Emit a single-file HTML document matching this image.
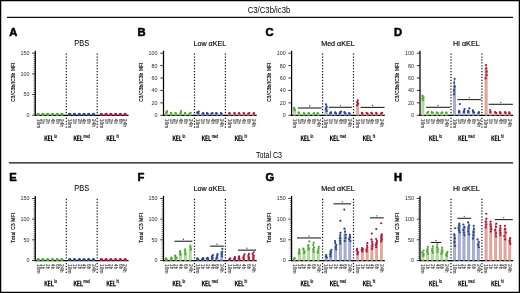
<!DOCTYPE html>
<html><head><meta charset="utf-8"><style>
html,body{margin:0;padding:0;background:#fff;}
svg{display:block;font-family:"Liberation Sans", sans-serif;}
.wrap{will-change:transform;width:520px;height:293px;}
</style></head><body><div class="wrap">
<svg width="520" height="293" viewBox="0 0 520 293">
<rect x="0" y="0" width="520" height="293" fill="#fff"/>
<rect x="0.6" y="0.6" width="518.8" height="291.8" fill="none" stroke="#000" stroke-width="1.3"/>
<line x1="7" y1="17.4" x2="513" y2="17.4" stroke="#111" stroke-width="1.2"/>
<line x1="8.9" y1="162.9" x2="513" y2="162.9" stroke="#111" stroke-width="1.3"/>
<text x="269.00" y="13.00" font-size="8.8" text-anchor="middle" font-weight="normal" fill="#000" textLength="42.6" lengthAdjust="spacingAndGlyphs">C3/C3b/ic3b</text>
<text x="269.00" y="158.30" font-size="8.2" text-anchor="middle" font-weight="normal" fill="#000" textLength="25.9" lengthAdjust="spacingAndGlyphs">Total C3</text>
<text x="9.30" y="36.20" font-size="11.2" text-anchor="start" font-weight="bold" fill="#000" stroke="#000" stroke-width="0.55">A</text>
<text x="81.70" y="45.80" font-size="8.4" text-anchor="middle" font-weight="normal" fill="#000" stroke="#000" stroke-width="0.05" textLength="14.8" lengthAdjust="spacingAndGlyphs">PBS</text>
<text x="0" y="0" font-size="20" text-anchor="middle" letter-spacing="1.2" fill="#111" stroke="#111" stroke-width="0.77" transform="translate(15.30,82.10) rotate(-90) scale(0.2290,0.2847)">C3/C3b/iC3b MFI</text>
<line x1="35.30" y1="50.70" x2="35.30" y2="115.85" stroke="#000" stroke-width="1.25"/>
<line x1="34.70" y1="115.25" x2="128.50" y2="115.25" stroke="#000" stroke-width="1.25"/>
<line x1="32.10" y1="115.25" x2="35.30" y2="115.25" stroke="#000" stroke-width="0.8"/>
<text x="29.40" y="117.15" font-size="5.2" text-anchor="end" font-weight="normal" fill="#2a2a2a" textLength="3.0" lengthAdjust="spacingAndGlyphs">0</text>
<line x1="32.10" y1="94.57" x2="35.30" y2="94.57" stroke="#000" stroke-width="0.8"/>
<text x="29.40" y="96.47" font-size="5.2" text-anchor="end" font-weight="normal" fill="#2a2a2a" textLength="6.0" lengthAdjust="spacingAndGlyphs">50</text>
<line x1="32.10" y1="73.88" x2="35.30" y2="73.88" stroke="#000" stroke-width="0.8"/>
<text x="29.40" y="75.78" font-size="5.2" text-anchor="end" font-weight="normal" fill="#2a2a2a" textLength="9.0" lengthAdjust="spacingAndGlyphs">100</text>
<line x1="32.10" y1="53.20" x2="35.30" y2="53.20" stroke="#000" stroke-width="0.8"/>
<text x="29.40" y="55.10" font-size="5.2" text-anchor="end" font-weight="normal" fill="#2a2a2a" textLength="9.0" lengthAdjust="spacingAndGlyphs">150</text>
<line x1="33.50" y1="113.18" x2="35.30" y2="113.18" stroke="#111" stroke-width="0.6"/>
<line x1="33.50" y1="111.11" x2="35.30" y2="111.11" stroke="#111" stroke-width="0.6"/>
<line x1="33.50" y1="109.05" x2="35.30" y2="109.05" stroke="#111" stroke-width="0.6"/>
<line x1="33.50" y1="106.98" x2="35.30" y2="106.98" stroke="#111" stroke-width="0.6"/>
<line x1="33.50" y1="104.91" x2="35.30" y2="104.91" stroke="#111" stroke-width="0.6"/>
<line x1="33.50" y1="102.84" x2="35.30" y2="102.84" stroke="#111" stroke-width="0.6"/>
<line x1="33.50" y1="100.77" x2="35.30" y2="100.77" stroke="#111" stroke-width="0.6"/>
<line x1="33.50" y1="98.70" x2="35.30" y2="98.70" stroke="#111" stroke-width="0.6"/>
<line x1="33.50" y1="96.64" x2="35.30" y2="96.64" stroke="#111" stroke-width="0.6"/>
<line x1="33.50" y1="92.50" x2="35.30" y2="92.50" stroke="#111" stroke-width="0.6"/>
<line x1="33.50" y1="90.43" x2="35.30" y2="90.43" stroke="#111" stroke-width="0.6"/>
<line x1="33.50" y1="88.36" x2="35.30" y2="88.36" stroke="#111" stroke-width="0.6"/>
<line x1="33.50" y1="86.29" x2="35.30" y2="86.29" stroke="#111" stroke-width="0.6"/>
<line x1="33.50" y1="84.22" x2="35.30" y2="84.22" stroke="#111" stroke-width="0.6"/>
<line x1="33.50" y1="82.16" x2="35.30" y2="82.16" stroke="#111" stroke-width="0.6"/>
<line x1="33.50" y1="80.09" x2="35.30" y2="80.09" stroke="#111" stroke-width="0.6"/>
<line x1="33.50" y1="78.02" x2="35.30" y2="78.02" stroke="#111" stroke-width="0.6"/>
<line x1="33.50" y1="75.95" x2="35.30" y2="75.95" stroke="#111" stroke-width="0.6"/>
<line x1="33.50" y1="71.81" x2="35.30" y2="71.81" stroke="#111" stroke-width="0.6"/>
<line x1="33.50" y1="69.75" x2="35.30" y2="69.75" stroke="#111" stroke-width="0.6"/>
<line x1="33.50" y1="67.68" x2="35.30" y2="67.68" stroke="#111" stroke-width="0.6"/>
<line x1="33.50" y1="65.61" x2="35.30" y2="65.61" stroke="#111" stroke-width="0.6"/>
<line x1="33.50" y1="63.54" x2="35.30" y2="63.54" stroke="#111" stroke-width="0.6"/>
<line x1="33.50" y1="61.47" x2="35.30" y2="61.47" stroke="#111" stroke-width="0.6"/>
<line x1="33.50" y1="59.41" x2="35.30" y2="59.41" stroke="#111" stroke-width="0.6"/>
<line x1="33.50" y1="57.34" x2="35.30" y2="57.34" stroke="#111" stroke-width="0.6"/>
<line x1="33.50" y1="55.27" x2="35.30" y2="55.27" stroke="#111" stroke-width="0.6"/>
<line x1="66.30" y1="53.50" x2="66.30" y2="129.20" stroke="#111" stroke-width="1.2" stroke-dasharray="1.25 1.67"/>
<line x1="97.20" y1="53.50" x2="97.20" y2="129.20" stroke="#111" stroke-width="1.2" stroke-dasharray="1.25 1.67"/>
<rect x="37.10" y="113.60" width="2.2" height="1.65" fill="#bcdca8" stroke="#8cc474" stroke-width="0.5"/>
<ellipse cx="38.20" cy="114.15" rx="1.55" ry="1.5" fill="#4fa834"/>
<rect x="41.84" y="113.60" width="2.2" height="1.65" fill="#bcdca8" stroke="#8cc474" stroke-width="0.5"/>
<ellipse cx="42.94" cy="114.15" rx="1.55" ry="1.5" fill="#4fa834"/>
<rect x="46.58" y="113.60" width="2.2" height="1.65" fill="#bcdca8" stroke="#8cc474" stroke-width="0.5"/>
<ellipse cx="47.68" cy="114.15" rx="1.55" ry="1.5" fill="#4fa834"/>
<rect x="51.32" y="113.60" width="2.2" height="1.65" fill="#bcdca8" stroke="#8cc474" stroke-width="0.5"/>
<ellipse cx="52.42" cy="114.15" rx="1.55" ry="1.5" fill="#4fa834"/>
<rect x="56.06" y="113.60" width="2.2" height="1.65" fill="#bcdca8" stroke="#8cc474" stroke-width="0.5"/>
<ellipse cx="57.16" cy="114.15" rx="1.55" ry="1.5" fill="#4fa834"/>
<rect x="60.80" y="113.60" width="2.2" height="1.65" fill="#bcdca8" stroke="#8cc474" stroke-width="0.5"/>
<ellipse cx="61.90" cy="114.15" rx="1.55" ry="1.5" fill="#4fa834"/>
<rect x="68.69" y="113.60" width="2.2" height="1.65" fill="#a9b2d6" stroke="#7c88bc" stroke-width="0.5"/>
<ellipse cx="69.79" cy="114.15" rx="1.55" ry="1.5" fill="#27468a"/>
<rect x="73.43" y="113.60" width="2.2" height="1.65" fill="#a9b2d6" stroke="#7c88bc" stroke-width="0.5"/>
<ellipse cx="74.53" cy="114.15" rx="1.55" ry="1.5" fill="#27468a"/>
<rect x="78.17" y="113.60" width="2.2" height="1.65" fill="#a9b2d6" stroke="#7c88bc" stroke-width="0.5"/>
<ellipse cx="79.27" cy="114.15" rx="1.55" ry="1.5" fill="#27468a"/>
<rect x="82.91" y="113.60" width="2.2" height="1.65" fill="#a9b2d6" stroke="#7c88bc" stroke-width="0.5"/>
<ellipse cx="84.01" cy="114.15" rx="1.55" ry="1.5" fill="#27468a"/>
<rect x="87.65" y="113.60" width="2.2" height="1.65" fill="#a9b2d6" stroke="#7c88bc" stroke-width="0.5"/>
<ellipse cx="88.75" cy="114.15" rx="1.55" ry="1.5" fill="#27468a"/>
<rect x="92.39" y="113.60" width="2.2" height="1.65" fill="#a9b2d6" stroke="#7c88bc" stroke-width="0.5"/>
<ellipse cx="93.49" cy="114.15" rx="1.55" ry="1.5" fill="#27468a"/>
<rect x="100.28" y="113.60" width="2.2" height="1.65" fill="#e4a89e" stroke="#d28a7e" stroke-width="0.5"/>
<ellipse cx="101.38" cy="114.15" rx="1.55" ry="1.5" fill="#b3133b"/>
<rect x="105.02" y="113.60" width="2.2" height="1.65" fill="#e4a89e" stroke="#d28a7e" stroke-width="0.5"/>
<ellipse cx="106.12" cy="114.15" rx="1.55" ry="1.5" fill="#b3133b"/>
<rect x="109.76" y="113.60" width="2.2" height="1.65" fill="#e4a89e" stroke="#d28a7e" stroke-width="0.5"/>
<ellipse cx="110.86" cy="114.15" rx="1.55" ry="1.5" fill="#b3133b"/>
<rect x="114.50" y="113.60" width="2.2" height="1.65" fill="#e4a89e" stroke="#d28a7e" stroke-width="0.5"/>
<ellipse cx="115.60" cy="114.15" rx="1.55" ry="1.5" fill="#b3133b"/>
<rect x="119.24" y="113.60" width="2.2" height="1.65" fill="#e4a89e" stroke="#d28a7e" stroke-width="0.5"/>
<ellipse cx="120.34" cy="114.15" rx="1.55" ry="1.5" fill="#b3133b"/>
<rect x="123.98" y="113.60" width="2.2" height="1.65" fill="#e4a89e" stroke="#d28a7e" stroke-width="0.5"/>
<ellipse cx="125.08" cy="114.15" rx="1.55" ry="1.5" fill="#b3133b"/>
<path d="M45.00,135.50V141.00M47.30,135.50L45.25,138.69M46.00,137.70L47.40,141.00M48.45,135.50V141.00M48.45,135.92H50.55M48.45,138.25H50.35M48.45,140.58H50.60M51.55,135.50V141.00M51.55,140.58H53.85" fill="none" stroke="#111" stroke-width="1.0"/>
<text x="54.25" y="137.60" font-size="4.6" text-anchor="start" font-weight="normal" fill="#111" stroke="#111" stroke-width="0.2" textLength="2.8" lengthAdjust="spacingAndGlyphs">lo</text>
<text x="0" y="0" font-size="4.9" fill="#505050" stroke="#505050" stroke-width="0.16" textLength="9.6" lengthAdjust="spacingAndGlyphs" transform="translate(36.60,118.85) rotate(90)">10m</text>
<text x="0" y="0" font-size="4.9" fill="#505050" stroke="#505050" stroke-width="0.16" textLength="5.2" lengthAdjust="spacingAndGlyphs" transform="translate(41.34,118.85) rotate(90)">1h</text>
<text x="0" y="0" font-size="4.9" fill="#505050" stroke="#505050" stroke-width="0.16" textLength="5.2" lengthAdjust="spacingAndGlyphs" transform="translate(46.08,118.85) rotate(90)">2h</text>
<text x="0" y="0" font-size="4.9" fill="#505050" stroke="#505050" stroke-width="0.16" textLength="5.2" lengthAdjust="spacingAndGlyphs" transform="translate(50.82,118.85) rotate(90)">4h</text>
<text x="0" y="0" font-size="4.9" fill="#505050" stroke="#505050" stroke-width="0.16" textLength="5.2" lengthAdjust="spacingAndGlyphs" transform="translate(55.56,118.85) rotate(90)">6h</text>
<text x="0" y="0" font-size="4.9" fill="#505050" stroke="#505050" stroke-width="0.16" textLength="8.4" lengthAdjust="spacingAndGlyphs" transform="translate(60.30,118.85) rotate(90)">24h</text>
<path d="M74.20,135.50V141.00M76.50,135.50L74.45,138.69M75.20,137.70L76.60,141.00M77.65,135.50V141.00M77.65,135.92H79.75M77.65,138.25H79.55M77.65,140.58H79.80M80.75,135.50V141.00M80.75,140.58H83.05" fill="none" stroke="#111" stroke-width="1.0"/>
<text x="83.45" y="137.60" font-size="4.6" text-anchor="start" font-weight="normal" fill="#111" stroke="#111" stroke-width="0.2" textLength="6.3" lengthAdjust="spacingAndGlyphs">med</text>
<text x="0" y="0" font-size="4.9" fill="#505050" stroke="#505050" stroke-width="0.16" textLength="9.6" lengthAdjust="spacingAndGlyphs" transform="translate(68.19,118.85) rotate(90)">10m</text>
<text x="0" y="0" font-size="4.9" fill="#505050" stroke="#505050" stroke-width="0.16" textLength="5.2" lengthAdjust="spacingAndGlyphs" transform="translate(72.93,118.85) rotate(90)">1h</text>
<text x="0" y="0" font-size="4.9" fill="#505050" stroke="#505050" stroke-width="0.16" textLength="5.2" lengthAdjust="spacingAndGlyphs" transform="translate(77.67,118.85) rotate(90)">2h</text>
<text x="0" y="0" font-size="4.9" fill="#505050" stroke="#505050" stroke-width="0.16" textLength="5.2" lengthAdjust="spacingAndGlyphs" transform="translate(82.41,118.85) rotate(90)">4h</text>
<text x="0" y="0" font-size="4.9" fill="#505050" stroke="#505050" stroke-width="0.16" textLength="5.2" lengthAdjust="spacingAndGlyphs" transform="translate(87.15,118.85) rotate(90)">6h</text>
<text x="0" y="0" font-size="4.9" fill="#505050" stroke="#505050" stroke-width="0.16" textLength="8.4" lengthAdjust="spacingAndGlyphs" transform="translate(91.89,118.85) rotate(90)">24h</text>
<path d="M107.15,135.50V141.00M109.45,135.50L107.40,138.69M108.15,137.70L109.55,141.00M110.60,135.50V141.00M110.60,135.92H112.70M110.60,138.25H112.50M110.60,140.58H112.75M113.70,135.50V141.00M113.70,140.58H116.00" fill="none" stroke="#111" stroke-width="1.0"/>
<text x="116.40" y="137.60" font-size="4.6" text-anchor="start" font-weight="normal" fill="#111" stroke="#111" stroke-width="0.2" textLength="2.6" lengthAdjust="spacingAndGlyphs">hi</text>
<text x="0" y="0" font-size="4.9" fill="#505050" stroke="#505050" stroke-width="0.16" textLength="9.6" lengthAdjust="spacingAndGlyphs" transform="translate(99.78,118.85) rotate(90)">10m</text>
<text x="0" y="0" font-size="4.9" fill="#505050" stroke="#505050" stroke-width="0.16" textLength="5.2" lengthAdjust="spacingAndGlyphs" transform="translate(104.52,118.85) rotate(90)">1h</text>
<text x="0" y="0" font-size="4.9" fill="#505050" stroke="#505050" stroke-width="0.16" textLength="5.2" lengthAdjust="spacingAndGlyphs" transform="translate(109.26,118.85) rotate(90)">2h</text>
<text x="0" y="0" font-size="4.9" fill="#505050" stroke="#505050" stroke-width="0.16" textLength="5.2" lengthAdjust="spacingAndGlyphs" transform="translate(114.00,118.85) rotate(90)">4h</text>
<text x="0" y="0" font-size="4.9" fill="#505050" stroke="#505050" stroke-width="0.16" textLength="5.2" lengthAdjust="spacingAndGlyphs" transform="translate(118.74,118.85) rotate(90)">6h</text>
<text x="0" y="0" font-size="4.9" fill="#505050" stroke="#505050" stroke-width="0.16" textLength="8.4" lengthAdjust="spacingAndGlyphs" transform="translate(123.48,118.85) rotate(90)">24h</text>
<text x="137.50" y="36.20" font-size="11.2" text-anchor="start" font-weight="bold" fill="#000" stroke="#000" stroke-width="0.55">B</text>
<text x="209.90" y="45.80" font-size="8.0" text-anchor="middle" font-weight="normal" fill="#000" stroke="#000" stroke-width="0.16" textLength="32.7" lengthAdjust="spacingAndGlyphs">Low αKEL</text>
<text x="0" y="0" font-size="20" text-anchor="middle" letter-spacing="1.2" fill="#111" stroke="#111" stroke-width="0.77" transform="translate(142.50,82.10) rotate(-90) scale(0.2290,0.2847)">C3/C3b/iC3b MFI</text>
<line x1="163.50" y1="50.70" x2="163.50" y2="115.85" stroke="#000" stroke-width="1.25"/>
<line x1="162.90" y1="115.25" x2="256.70" y2="115.25" stroke="#000" stroke-width="1.25"/>
<line x1="160.30" y1="115.25" x2="163.50" y2="115.25" stroke="#000" stroke-width="0.8"/>
<text x="157.60" y="117.15" font-size="5.2" text-anchor="end" font-weight="normal" fill="#2a2a2a" textLength="3.0" lengthAdjust="spacingAndGlyphs">0</text>
<line x1="160.30" y1="102.84" x2="163.50" y2="102.84" stroke="#000" stroke-width="0.8"/>
<text x="157.60" y="104.74" font-size="5.2" text-anchor="end" font-weight="normal" fill="#2a2a2a" textLength="6.0" lengthAdjust="spacingAndGlyphs">20</text>
<line x1="160.30" y1="90.43" x2="163.50" y2="90.43" stroke="#000" stroke-width="0.8"/>
<text x="157.60" y="92.33" font-size="5.2" text-anchor="end" font-weight="normal" fill="#2a2a2a" textLength="6.0" lengthAdjust="spacingAndGlyphs">40</text>
<line x1="160.30" y1="78.02" x2="163.50" y2="78.02" stroke="#000" stroke-width="0.8"/>
<text x="157.60" y="79.92" font-size="5.2" text-anchor="end" font-weight="normal" fill="#2a2a2a" textLength="6.0" lengthAdjust="spacingAndGlyphs">60</text>
<line x1="160.30" y1="65.61" x2="163.50" y2="65.61" stroke="#000" stroke-width="0.8"/>
<text x="157.60" y="67.51" font-size="5.2" text-anchor="end" font-weight="normal" fill="#2a2a2a" textLength="6.0" lengthAdjust="spacingAndGlyphs">80</text>
<line x1="160.30" y1="53.20" x2="163.50" y2="53.20" stroke="#000" stroke-width="0.8"/>
<text x="157.60" y="55.10" font-size="5.2" text-anchor="end" font-weight="normal" fill="#2a2a2a" textLength="9.0" lengthAdjust="spacingAndGlyphs">100</text>
<line x1="194.50" y1="53.50" x2="194.50" y2="129.20" stroke="#111" stroke-width="1.2" stroke-dasharray="1.25 1.67"/>
<line x1="225.40" y1="53.50" x2="225.40" y2="129.20" stroke="#111" stroke-width="1.2" stroke-dasharray="1.25 1.67"/>
<rect x="165.30" y="111.84" width="2.2" height="3.41" fill="#bcdca8" stroke="#8cc474" stroke-width="0.5"/>
<circle cx="166.32" cy="113.39" r="1.1" fill="#4fa834"/>
<circle cx="166.50" cy="112.30" r="1.1" fill="#4fa834"/>
<circle cx="167.08" cy="111.22" r="1.1" fill="#4fa834"/>
<rect x="170.04" y="113.08" width="2.2" height="2.17" fill="#bcdca8" stroke="#8cc474" stroke-width="0.5"/>
<circle cx="171.09" cy="113.70" r="1.1" fill="#4fa834"/>
<circle cx="171.15" cy="112.77" r="1.1" fill="#4fa834"/>
<rect x="174.78" y="113.08" width="2.2" height="2.17" fill="#bcdca8" stroke="#8cc474" stroke-width="0.5"/>
<circle cx="176.02" cy="113.70" r="1.1" fill="#4fa834"/>
<circle cx="175.38" cy="112.77" r="1.1" fill="#4fa834"/>
<rect x="179.52" y="113.08" width="2.2" height="2.17" fill="#bcdca8" stroke="#8cc474" stroke-width="0.5"/>
<circle cx="180.64" cy="113.70" r="1.1" fill="#4fa834"/>
<circle cx="180.83" cy="112.77" r="1.1" fill="#4fa834"/>
<circle cx="181.09" cy="111.22" r="1.1" fill="#4fa834"/>
<rect x="184.26" y="113.08" width="2.2" height="2.17" fill="#bcdca8" stroke="#8cc474" stroke-width="0.5"/>
<circle cx="184.71" cy="113.70" r="1.1" fill="#4fa834"/>
<circle cx="185.05" cy="112.77" r="1.1" fill="#4fa834"/>
<rect x="189.00" y="113.08" width="2.2" height="2.17" fill="#bcdca8" stroke="#8cc474" stroke-width="0.5"/>
<circle cx="189.45" cy="113.70" r="1.1" fill="#4fa834"/>
<circle cx="190.60" cy="112.77" r="1.1" fill="#4fa834"/>
<rect x="196.89" y="112.46" width="2.2" height="2.79" fill="#a9b2d6" stroke="#7c88bc" stroke-width="0.5"/>
<circle cx="198.30" cy="113.39" r="1.1" fill="#27468a"/>
<circle cx="197.26" cy="112.46" r="1.1" fill="#27468a"/>
<circle cx="198.76" cy="111.53" r="1.1" fill="#27468a"/>
<rect x="201.63" y="113.39" width="2.2" height="1.86" fill="#a9b2d6" stroke="#7c88bc" stroke-width="0.5"/>
<circle cx="203.47" cy="113.70" r="1.1" fill="#27468a"/>
<circle cx="202.98" cy="113.08" r="1.1" fill="#27468a"/>
<rect x="206.37" y="113.39" width="2.2" height="1.86" fill="#a9b2d6" stroke="#7c88bc" stroke-width="0.5"/>
<circle cx="207.65" cy="113.70" r="1.1" fill="#27468a"/>
<circle cx="206.92" cy="113.08" r="1.1" fill="#27468a"/>
<rect x="211.11" y="113.39" width="2.2" height="1.86" fill="#a9b2d6" stroke="#7c88bc" stroke-width="0.5"/>
<circle cx="211.43" cy="113.70" r="1.1" fill="#27468a"/>
<circle cx="212.26" cy="113.08" r="1.1" fill="#27468a"/>
<rect x="215.85" y="113.39" width="2.2" height="1.86" fill="#a9b2d6" stroke="#7c88bc" stroke-width="0.5"/>
<circle cx="216.25" cy="113.70" r="1.1" fill="#27468a"/>
<circle cx="216.45" cy="113.08" r="1.1" fill="#27468a"/>
<rect x="220.59" y="113.39" width="2.2" height="1.86" fill="#a9b2d6" stroke="#7c88bc" stroke-width="0.5"/>
<circle cx="221.28" cy="113.70" r="1.1" fill="#27468a"/>
<circle cx="220.94" cy="113.08" r="1.1" fill="#27468a"/>
<rect x="228.48" y="113.39" width="2.2" height="1.86" fill="#e4a89e" stroke="#d28a7e" stroke-width="0.5"/>
<circle cx="229.52" cy="113.70" r="1.1" fill="#b3133b"/>
<circle cx="229.48" cy="113.08" r="1.1" fill="#b3133b"/>
<rect x="233.22" y="113.39" width="2.2" height="1.86" fill="#e4a89e" stroke="#d28a7e" stroke-width="0.5"/>
<circle cx="234.87" cy="113.70" r="1.1" fill="#b3133b"/>
<circle cx="234.35" cy="113.08" r="1.1" fill="#b3133b"/>
<rect x="237.96" y="113.39" width="2.2" height="1.86" fill="#e4a89e" stroke="#d28a7e" stroke-width="0.5"/>
<circle cx="239.28" cy="113.70" r="1.1" fill="#b3133b"/>
<circle cx="239.06" cy="113.08" r="1.1" fill="#b3133b"/>
<rect x="242.70" y="113.39" width="2.2" height="1.86" fill="#e4a89e" stroke="#d28a7e" stroke-width="0.5"/>
<circle cx="244.06" cy="113.70" r="1.1" fill="#b3133b"/>
<circle cx="243.73" cy="113.08" r="1.1" fill="#b3133b"/>
<rect x="247.44" y="113.39" width="2.2" height="1.86" fill="#e4a89e" stroke="#d28a7e" stroke-width="0.5"/>
<circle cx="248.19" cy="113.70" r="1.1" fill="#b3133b"/>
<circle cx="249.34" cy="113.08" r="1.1" fill="#b3133b"/>
<rect x="252.18" y="113.39" width="2.2" height="1.86" fill="#e4a89e" stroke="#d28a7e" stroke-width="0.5"/>
<circle cx="254.07" cy="113.70" r="1.1" fill="#b3133b"/>
<circle cx="253.82" cy="113.08" r="1.1" fill="#b3133b"/>
<path d="M173.20,135.50V141.00M175.50,135.50L173.45,138.69M174.20,137.70L175.60,141.00M176.65,135.50V141.00M176.65,135.92H178.75M176.65,138.25H178.55M176.65,140.58H178.80M179.75,135.50V141.00M179.75,140.58H182.05" fill="none" stroke="#111" stroke-width="1.0"/>
<text x="182.45" y="137.60" font-size="4.6" text-anchor="start" font-weight="normal" fill="#111" stroke="#111" stroke-width="0.2" textLength="2.8" lengthAdjust="spacingAndGlyphs">lo</text>
<text x="0" y="0" font-size="4.9" fill="#505050" stroke="#505050" stroke-width="0.16" textLength="9.6" lengthAdjust="spacingAndGlyphs" transform="translate(164.80,118.85) rotate(90)">10m</text>
<text x="0" y="0" font-size="4.9" fill="#505050" stroke="#505050" stroke-width="0.16" textLength="5.2" lengthAdjust="spacingAndGlyphs" transform="translate(169.54,118.85) rotate(90)">1h</text>
<text x="0" y="0" font-size="4.9" fill="#505050" stroke="#505050" stroke-width="0.16" textLength="5.2" lengthAdjust="spacingAndGlyphs" transform="translate(174.28,118.85) rotate(90)">2h</text>
<text x="0" y="0" font-size="4.9" fill="#505050" stroke="#505050" stroke-width="0.16" textLength="5.2" lengthAdjust="spacingAndGlyphs" transform="translate(179.02,118.85) rotate(90)">4h</text>
<text x="0" y="0" font-size="4.9" fill="#505050" stroke="#505050" stroke-width="0.16" textLength="5.2" lengthAdjust="spacingAndGlyphs" transform="translate(183.76,118.85) rotate(90)">6h</text>
<text x="0" y="0" font-size="4.9" fill="#505050" stroke="#505050" stroke-width="0.16" textLength="8.4" lengthAdjust="spacingAndGlyphs" transform="translate(188.50,118.85) rotate(90)">24h</text>
<path d="M202.40,135.50V141.00M204.70,135.50L202.65,138.69M203.40,137.70L204.80,141.00M205.85,135.50V141.00M205.85,135.92H207.95M205.85,138.25H207.75M205.85,140.58H208.00M208.95,135.50V141.00M208.95,140.58H211.25" fill="none" stroke="#111" stroke-width="1.0"/>
<text x="211.65" y="137.60" font-size="4.6" text-anchor="start" font-weight="normal" fill="#111" stroke="#111" stroke-width="0.2" textLength="6.3" lengthAdjust="spacingAndGlyphs">med</text>
<text x="0" y="0" font-size="4.9" fill="#505050" stroke="#505050" stroke-width="0.16" textLength="9.6" lengthAdjust="spacingAndGlyphs" transform="translate(196.39,118.85) rotate(90)">10m</text>
<text x="0" y="0" font-size="4.9" fill="#505050" stroke="#505050" stroke-width="0.16" textLength="5.2" lengthAdjust="spacingAndGlyphs" transform="translate(201.13,118.85) rotate(90)">1h</text>
<text x="0" y="0" font-size="4.9" fill="#505050" stroke="#505050" stroke-width="0.16" textLength="5.2" lengthAdjust="spacingAndGlyphs" transform="translate(205.87,118.85) rotate(90)">2h</text>
<text x="0" y="0" font-size="4.9" fill="#505050" stroke="#505050" stroke-width="0.16" textLength="5.2" lengthAdjust="spacingAndGlyphs" transform="translate(210.61,118.85) rotate(90)">4h</text>
<text x="0" y="0" font-size="4.9" fill="#505050" stroke="#505050" stroke-width="0.16" textLength="5.2" lengthAdjust="spacingAndGlyphs" transform="translate(215.35,118.85) rotate(90)">6h</text>
<text x="0" y="0" font-size="4.9" fill="#505050" stroke="#505050" stroke-width="0.16" textLength="8.4" lengthAdjust="spacingAndGlyphs" transform="translate(220.09,118.85) rotate(90)">24h</text>
<path d="M235.35,135.50V141.00M237.65,135.50L235.60,138.69M236.35,137.70L237.75,141.00M238.80,135.50V141.00M238.80,135.92H240.90M238.80,138.25H240.70M238.80,140.58H240.95M241.90,135.50V141.00M241.90,140.58H244.20" fill="none" stroke="#111" stroke-width="1.0"/>
<text x="244.60" y="137.60" font-size="4.6" text-anchor="start" font-weight="normal" fill="#111" stroke="#111" stroke-width="0.2" textLength="2.6" lengthAdjust="spacingAndGlyphs">hi</text>
<text x="0" y="0" font-size="4.9" fill="#505050" stroke="#505050" stroke-width="0.16" textLength="9.6" lengthAdjust="spacingAndGlyphs" transform="translate(227.98,118.85) rotate(90)">10m</text>
<text x="0" y="0" font-size="4.9" fill="#505050" stroke="#505050" stroke-width="0.16" textLength="5.2" lengthAdjust="spacingAndGlyphs" transform="translate(232.72,118.85) rotate(90)">1h</text>
<text x="0" y="0" font-size="4.9" fill="#505050" stroke="#505050" stroke-width="0.16" textLength="5.2" lengthAdjust="spacingAndGlyphs" transform="translate(237.46,118.85) rotate(90)">2h</text>
<text x="0" y="0" font-size="4.9" fill="#505050" stroke="#505050" stroke-width="0.16" textLength="5.2" lengthAdjust="spacingAndGlyphs" transform="translate(242.20,118.85) rotate(90)">4h</text>
<text x="0" y="0" font-size="4.9" fill="#505050" stroke="#505050" stroke-width="0.16" textLength="5.2" lengthAdjust="spacingAndGlyphs" transform="translate(246.94,118.85) rotate(90)">6h</text>
<text x="0" y="0" font-size="4.9" fill="#505050" stroke="#505050" stroke-width="0.16" textLength="8.4" lengthAdjust="spacingAndGlyphs" transform="translate(251.68,118.85) rotate(90)">24h</text>
<text x="265.60" y="36.20" font-size="11.2" text-anchor="start" font-weight="bold" fill="#000" stroke="#000" stroke-width="0.55">C</text>
<text x="338.00" y="45.80" font-size="8.0" text-anchor="middle" font-weight="normal" fill="#000" stroke="#000" stroke-width="0.16" textLength="33.7" lengthAdjust="spacingAndGlyphs">Med αKEL</text>
<text x="0" y="0" font-size="20" text-anchor="middle" letter-spacing="1.2" fill="#111" stroke="#111" stroke-width="0.77" transform="translate(270.60,82.10) rotate(-90) scale(0.2290,0.2847)">C3/C3b/iC3b MFI</text>
<line x1="291.60" y1="50.70" x2="291.60" y2="115.85" stroke="#000" stroke-width="1.25"/>
<line x1="291.00" y1="115.25" x2="384.80" y2="115.25" stroke="#000" stroke-width="1.25"/>
<line x1="288.40" y1="115.25" x2="291.60" y2="115.25" stroke="#000" stroke-width="0.8"/>
<text x="285.70" y="117.15" font-size="5.2" text-anchor="end" font-weight="normal" fill="#2a2a2a" textLength="3.0" lengthAdjust="spacingAndGlyphs">0</text>
<line x1="288.40" y1="102.84" x2="291.60" y2="102.84" stroke="#000" stroke-width="0.8"/>
<text x="285.70" y="104.74" font-size="5.2" text-anchor="end" font-weight="normal" fill="#2a2a2a" textLength="6.0" lengthAdjust="spacingAndGlyphs">20</text>
<line x1="288.40" y1="90.43" x2="291.60" y2="90.43" stroke="#000" stroke-width="0.8"/>
<text x="285.70" y="92.33" font-size="5.2" text-anchor="end" font-weight="normal" fill="#2a2a2a" textLength="6.0" lengthAdjust="spacingAndGlyphs">40</text>
<line x1="288.40" y1="78.02" x2="291.60" y2="78.02" stroke="#000" stroke-width="0.8"/>
<text x="285.70" y="79.92" font-size="5.2" text-anchor="end" font-weight="normal" fill="#2a2a2a" textLength="6.0" lengthAdjust="spacingAndGlyphs">60</text>
<line x1="288.40" y1="65.61" x2="291.60" y2="65.61" stroke="#000" stroke-width="0.8"/>
<text x="285.70" y="67.51" font-size="5.2" text-anchor="end" font-weight="normal" fill="#2a2a2a" textLength="6.0" lengthAdjust="spacingAndGlyphs">80</text>
<line x1="288.40" y1="53.20" x2="291.60" y2="53.20" stroke="#000" stroke-width="0.8"/>
<text x="285.70" y="55.10" font-size="5.2" text-anchor="end" font-weight="normal" fill="#2a2a2a" textLength="9.0" lengthAdjust="spacingAndGlyphs">100</text>
<line x1="322.60" y1="53.50" x2="322.60" y2="129.20" stroke="#111" stroke-width="1.2" stroke-dasharray="1.25 1.67"/>
<line x1="353.50" y1="53.50" x2="353.50" y2="129.20" stroke="#111" stroke-width="1.2" stroke-dasharray="1.25 1.67"/>
<rect x="293.40" y="108.42" width="2.2" height="6.83" fill="#bcdca8" stroke="#8cc474" stroke-width="0.5"/>
<circle cx="294.83" cy="110.29" r="1.1" fill="#4fa834"/>
<circle cx="294.20" cy="109.05" r="1.1" fill="#4fa834"/>
<circle cx="294.07" cy="107.80" r="1.1" fill="#4fa834"/>
<rect x="298.14" y="113.08" width="2.2" height="2.17" fill="#bcdca8" stroke="#8cc474" stroke-width="0.5"/>
<circle cx="298.90" cy="113.39" r="1.1" fill="#4fa834"/>
<circle cx="298.55" cy="112.46" r="1.1" fill="#4fa834"/>
<rect x="302.88" y="113.39" width="2.2" height="1.86" fill="#bcdca8" stroke="#8cc474" stroke-width="0.5"/>
<circle cx="304.41" cy="113.70" r="1.1" fill="#4fa834"/>
<circle cx="303.82" cy="113.08" r="1.1" fill="#4fa834"/>
<rect x="307.62" y="113.39" width="2.2" height="1.86" fill="#bcdca8" stroke="#8cc474" stroke-width="0.5"/>
<circle cx="309.27" cy="113.70" r="1.1" fill="#4fa834"/>
<circle cx="308.54" cy="113.08" r="1.1" fill="#4fa834"/>
<rect x="312.36" y="113.39" width="2.2" height="1.86" fill="#bcdca8" stroke="#8cc474" stroke-width="0.5"/>
<circle cx="314.19" cy="113.70" r="1.1" fill="#4fa834"/>
<circle cx="314.02" cy="113.08" r="1.1" fill="#4fa834"/>
<rect x="317.10" y="113.39" width="2.2" height="1.86" fill="#bcdca8" stroke="#8cc474" stroke-width="0.5"/>
<circle cx="317.40" cy="113.70" r="1.1" fill="#4fa834"/>
<circle cx="317.74" cy="113.08" r="1.1" fill="#4fa834"/>
<rect x="324.99" y="107.49" width="2.2" height="7.76" fill="#a9b2d6" stroke="#7c88bc" stroke-width="0.5"/>
<line x1="326.09" y1="104.33" x2="326.09" y2="110.91" stroke="#27468a" stroke-width="0.6"/>
<circle cx="326.75" cy="110.91" r="1.1" fill="#27468a"/>
<circle cx="326.04" cy="108.71" r="1.1" fill="#27468a"/>
<circle cx="326.86" cy="106.52" r="1.1" fill="#27468a"/>
<circle cx="325.93" cy="104.33" r="1.1" fill="#27468a"/>
<rect x="329.73" y="113.08" width="2.2" height="2.17" fill="#a9b2d6" stroke="#7c88bc" stroke-width="0.5"/>
<circle cx="330.15" cy="113.39" r="1.1" fill="#27468a"/>
<circle cx="331.04" cy="112.46" r="1.1" fill="#27468a"/>
<rect x="334.47" y="113.08" width="2.2" height="2.17" fill="#a9b2d6" stroke="#7c88bc" stroke-width="0.5"/>
<circle cx="336.02" cy="113.39" r="1.1" fill="#27468a"/>
<circle cx="335.20" cy="112.46" r="1.1" fill="#27468a"/>
<rect x="339.21" y="112.77" width="2.2" height="2.48" fill="#a9b2d6" stroke="#7c88bc" stroke-width="0.5"/>
<circle cx="339.65" cy="113.39" r="1.1" fill="#27468a"/>
<circle cx="340.04" cy="112.46" r="1.1" fill="#27468a"/>
<circle cx="341.05" cy="111.53" r="1.1" fill="#27468a"/>
<rect x="343.95" y="113.08" width="2.2" height="2.17" fill="#a9b2d6" stroke="#7c88bc" stroke-width="0.5"/>
<circle cx="345.46" cy="113.39" r="1.1" fill="#27468a"/>
<circle cx="344.44" cy="112.15" r="1.1" fill="#27468a"/>
<rect x="348.69" y="113.39" width="2.2" height="1.86" fill="#a9b2d6" stroke="#7c88bc" stroke-width="0.5"/>
<circle cx="349.38" cy="113.70" r="1.1" fill="#27468a"/>
<circle cx="349.15" cy="113.08" r="1.1" fill="#27468a"/>
<rect x="356.58" y="102.84" width="2.2" height="12.41" fill="#e4a89e" stroke="#d28a7e" stroke-width="0.5"/>
<line x1="357.68" y1="100.36" x2="357.68" y2="105.32" stroke="#b3133b" stroke-width="0.6"/>
<circle cx="356.98" cy="105.32" r="1.1" fill="#b3133b"/>
<circle cx="358.16" cy="103.67" r="1.1" fill="#b3133b"/>
<circle cx="357.16" cy="102.01" r="1.1" fill="#b3133b"/>
<circle cx="357.77" cy="100.36" r="1.1" fill="#b3133b"/>
<rect x="361.32" y="113.26" width="2.2" height="1.99" fill="#e4a89e" stroke="#d28a7e" stroke-width="0.5"/>
<circle cx="362.34" cy="113.70" r="1.1" fill="#b3133b"/>
<circle cx="361.93" cy="112.77" r="1.1" fill="#b3133b"/>
<rect x="366.06" y="113.26" width="2.2" height="1.99" fill="#e4a89e" stroke="#d28a7e" stroke-width="0.5"/>
<circle cx="367.53" cy="113.70" r="1.1" fill="#b3133b"/>
<circle cx="366.57" cy="112.77" r="1.1" fill="#b3133b"/>
<rect x="370.80" y="113.26" width="2.2" height="1.99" fill="#e4a89e" stroke="#d28a7e" stroke-width="0.5"/>
<circle cx="372.13" cy="113.70" r="1.1" fill="#b3133b"/>
<circle cx="371.29" cy="112.77" r="1.1" fill="#b3133b"/>
<rect x="375.54" y="113.26" width="2.2" height="1.99" fill="#e4a89e" stroke="#d28a7e" stroke-width="0.5"/>
<circle cx="376.51" cy="113.70" r="1.1" fill="#b3133b"/>
<circle cx="376.18" cy="112.77" r="1.1" fill="#b3133b"/>
<rect x="380.28" y="113.26" width="2.2" height="1.99" fill="#e4a89e" stroke="#d28a7e" stroke-width="0.5"/>
<circle cx="381.01" cy="113.70" r="1.1" fill="#b3133b"/>
<circle cx="382.13" cy="112.77" r="1.1" fill="#b3133b"/>
<path d="M301.30,135.50V141.00M303.60,135.50L301.55,138.69M302.30,137.70L303.70,141.00M304.75,135.50V141.00M304.75,135.92H306.85M304.75,138.25H306.65M304.75,140.58H306.90M307.85,135.50V141.00M307.85,140.58H310.15" fill="none" stroke="#111" stroke-width="1.0"/>
<text x="310.55" y="137.60" font-size="4.6" text-anchor="start" font-weight="normal" fill="#111" stroke="#111" stroke-width="0.2" textLength="2.8" lengthAdjust="spacingAndGlyphs">lo</text>
<text x="0" y="0" font-size="4.9" fill="#505050" stroke="#505050" stroke-width="0.16" textLength="9.6" lengthAdjust="spacingAndGlyphs" transform="translate(292.90,118.85) rotate(90)">10m</text>
<text x="0" y="0" font-size="4.9" fill="#505050" stroke="#505050" stroke-width="0.16" textLength="5.2" lengthAdjust="spacingAndGlyphs" transform="translate(297.64,118.85) rotate(90)">1h</text>
<text x="0" y="0" font-size="4.9" fill="#505050" stroke="#505050" stroke-width="0.16" textLength="5.2" lengthAdjust="spacingAndGlyphs" transform="translate(302.38,118.85) rotate(90)">2h</text>
<text x="0" y="0" font-size="4.9" fill="#505050" stroke="#505050" stroke-width="0.16" textLength="5.2" lengthAdjust="spacingAndGlyphs" transform="translate(307.12,118.85) rotate(90)">4h</text>
<text x="0" y="0" font-size="4.9" fill="#505050" stroke="#505050" stroke-width="0.16" textLength="5.2" lengthAdjust="spacingAndGlyphs" transform="translate(311.86,118.85) rotate(90)">6h</text>
<text x="0" y="0" font-size="4.9" fill="#505050" stroke="#505050" stroke-width="0.16" textLength="8.4" lengthAdjust="spacingAndGlyphs" transform="translate(316.60,118.85) rotate(90)">24h</text>
<path d="M330.50,135.50V141.00M332.80,135.50L330.75,138.69M331.50,137.70L332.90,141.00M333.95,135.50V141.00M333.95,135.92H336.05M333.95,138.25H335.85M333.95,140.58H336.10M337.05,135.50V141.00M337.05,140.58H339.35" fill="none" stroke="#111" stroke-width="1.0"/>
<text x="339.75" y="137.60" font-size="4.6" text-anchor="start" font-weight="normal" fill="#111" stroke="#111" stroke-width="0.2" textLength="6.3" lengthAdjust="spacingAndGlyphs">med</text>
<text x="0" y="0" font-size="4.9" fill="#505050" stroke="#505050" stroke-width="0.16" textLength="9.6" lengthAdjust="spacingAndGlyphs" transform="translate(324.49,118.85) rotate(90)">10m</text>
<text x="0" y="0" font-size="4.9" fill="#505050" stroke="#505050" stroke-width="0.16" textLength="5.2" lengthAdjust="spacingAndGlyphs" transform="translate(329.23,118.85) rotate(90)">1h</text>
<text x="0" y="0" font-size="4.9" fill="#505050" stroke="#505050" stroke-width="0.16" textLength="5.2" lengthAdjust="spacingAndGlyphs" transform="translate(333.97,118.85) rotate(90)">2h</text>
<text x="0" y="0" font-size="4.9" fill="#505050" stroke="#505050" stroke-width="0.16" textLength="5.2" lengthAdjust="spacingAndGlyphs" transform="translate(338.71,118.85) rotate(90)">4h</text>
<text x="0" y="0" font-size="4.9" fill="#505050" stroke="#505050" stroke-width="0.16" textLength="5.2" lengthAdjust="spacingAndGlyphs" transform="translate(343.45,118.85) rotate(90)">6h</text>
<text x="0" y="0" font-size="4.9" fill="#505050" stroke="#505050" stroke-width="0.16" textLength="8.4" lengthAdjust="spacingAndGlyphs" transform="translate(348.19,118.85) rotate(90)">24h</text>
<path d="M363.45,135.50V141.00M365.75,135.50L363.70,138.69M364.45,137.70L365.85,141.00M366.90,135.50V141.00M366.90,135.92H369.00M366.90,138.25H368.80M366.90,140.58H369.05M370.00,135.50V141.00M370.00,140.58H372.30" fill="none" stroke="#111" stroke-width="1.0"/>
<text x="372.70" y="137.60" font-size="4.6" text-anchor="start" font-weight="normal" fill="#111" stroke="#111" stroke-width="0.2" textLength="2.6" lengthAdjust="spacingAndGlyphs">hi</text>
<text x="0" y="0" font-size="4.9" fill="#505050" stroke="#505050" stroke-width="0.16" textLength="9.6" lengthAdjust="spacingAndGlyphs" transform="translate(356.08,118.85) rotate(90)">10m</text>
<text x="0" y="0" font-size="4.9" fill="#505050" stroke="#505050" stroke-width="0.16" textLength="5.2" lengthAdjust="spacingAndGlyphs" transform="translate(360.82,118.85) rotate(90)">1h</text>
<text x="0" y="0" font-size="4.9" fill="#505050" stroke="#505050" stroke-width="0.16" textLength="5.2" lengthAdjust="spacingAndGlyphs" transform="translate(365.56,118.85) rotate(90)">2h</text>
<text x="0" y="0" font-size="4.9" fill="#505050" stroke="#505050" stroke-width="0.16" textLength="5.2" lengthAdjust="spacingAndGlyphs" transform="translate(370.30,118.85) rotate(90)">4h</text>
<text x="0" y="0" font-size="4.9" fill="#505050" stroke="#505050" stroke-width="0.16" textLength="5.2" lengthAdjust="spacingAndGlyphs" transform="translate(375.04,118.85) rotate(90)">6h</text>
<text x="0" y="0" font-size="4.9" fill="#505050" stroke="#505050" stroke-width="0.16" textLength="8.4" lengthAdjust="spacingAndGlyphs" transform="translate(379.78,118.85) rotate(90)">24h</text>
<line x1="297.90" y1="108.00" x2="321.50" y2="108.00" stroke="#222" stroke-width="1.1"/>
<circle cx="309.70" cy="106.00" r="0.65" fill="#333"/>
<line x1="328.90" y1="107.30" x2="351.90" y2="107.30" stroke="#222" stroke-width="1.1"/>
<circle cx="340.40" cy="105.30" r="0.65" fill="#333"/>
<line x1="360.60" y1="107.40" x2="384.50" y2="107.40" stroke="#222" stroke-width="1.1"/>
<circle cx="372.55" cy="105.40" r="0.65" fill="#333"/>
<text x="394.00" y="36.20" font-size="11.2" text-anchor="start" font-weight="bold" fill="#000" stroke="#000" stroke-width="0.55">D</text>
<text x="466.40" y="45.80" font-size="8.0" text-anchor="middle" font-weight="normal" fill="#000" stroke="#000" stroke-width="0.16" textLength="26.7" lengthAdjust="spacingAndGlyphs">Hi αKEL</text>
<text x="0" y="0" font-size="20" text-anchor="middle" letter-spacing="1.2" fill="#111" stroke="#111" stroke-width="0.77" transform="translate(399.00,82.10) rotate(-90) scale(0.2290,0.2847)">C3/C3b/iC3b MFI</text>
<line x1="420.00" y1="50.70" x2="420.00" y2="115.85" stroke="#000" stroke-width="1.25"/>
<line x1="419.40" y1="115.25" x2="513.20" y2="115.25" stroke="#000" stroke-width="1.25"/>
<line x1="416.80" y1="115.25" x2="420.00" y2="115.25" stroke="#000" stroke-width="0.8"/>
<text x="414.10" y="117.15" font-size="5.2" text-anchor="end" font-weight="normal" fill="#2a2a2a" textLength="3.0" lengthAdjust="spacingAndGlyphs">0</text>
<line x1="416.80" y1="102.84" x2="420.00" y2="102.84" stroke="#000" stroke-width="0.8"/>
<text x="414.10" y="104.74" font-size="5.2" text-anchor="end" font-weight="normal" fill="#2a2a2a" textLength="6.0" lengthAdjust="spacingAndGlyphs">20</text>
<line x1="416.80" y1="90.43" x2="420.00" y2="90.43" stroke="#000" stroke-width="0.8"/>
<text x="414.10" y="92.33" font-size="5.2" text-anchor="end" font-weight="normal" fill="#2a2a2a" textLength="6.0" lengthAdjust="spacingAndGlyphs">40</text>
<line x1="416.80" y1="78.02" x2="420.00" y2="78.02" stroke="#000" stroke-width="0.8"/>
<text x="414.10" y="79.92" font-size="5.2" text-anchor="end" font-weight="normal" fill="#2a2a2a" textLength="6.0" lengthAdjust="spacingAndGlyphs">60</text>
<line x1="416.80" y1="65.61" x2="420.00" y2="65.61" stroke="#000" stroke-width="0.8"/>
<text x="414.10" y="67.51" font-size="5.2" text-anchor="end" font-weight="normal" fill="#2a2a2a" textLength="6.0" lengthAdjust="spacingAndGlyphs">80</text>
<line x1="416.80" y1="53.20" x2="420.00" y2="53.20" stroke="#000" stroke-width="0.8"/>
<text x="414.10" y="55.10" font-size="5.2" text-anchor="end" font-weight="normal" fill="#2a2a2a" textLength="9.0" lengthAdjust="spacingAndGlyphs">100</text>
<line x1="451.00" y1="53.50" x2="451.00" y2="129.20" stroke="#111" stroke-width="1.2" stroke-dasharray="1.25 1.67"/>
<line x1="481.90" y1="53.50" x2="481.90" y2="129.20" stroke="#111" stroke-width="1.2" stroke-dasharray="1.25 1.67"/>
<rect x="421.80" y="96.01" width="2.2" height="19.24" fill="#bcdca8" stroke="#8cc474" stroke-width="0.5"/>
<line x1="422.90" y1="95.70" x2="422.90" y2="100.36" stroke="#4fa834" stroke-width="0.6"/>
<circle cx="423.39" cy="100.36" r="1.1" fill="#4fa834"/>
<circle cx="422.59" cy="98.81" r="1.1" fill="#4fa834"/>
<circle cx="423.52" cy="97.26" r="1.1" fill="#4fa834"/>
<circle cx="422.44" cy="95.70" r="1.1" fill="#4fa834"/>
<rect x="426.54" y="112.46" width="2.2" height="2.79" fill="#bcdca8" stroke="#8cc474" stroke-width="0.5"/>
<circle cx="427.47" cy="112.77" r="1.1" fill="#4fa834"/>
<circle cx="428.21" cy="111.84" r="1.1" fill="#4fa834"/>
<rect x="431.28" y="112.46" width="2.2" height="2.79" fill="#bcdca8" stroke="#8cc474" stroke-width="0.5"/>
<circle cx="432.61" cy="112.77" r="1.1" fill="#4fa834"/>
<circle cx="431.74" cy="112.15" r="1.1" fill="#4fa834"/>
<rect x="436.02" y="112.77" width="2.2" height="2.48" fill="#bcdca8" stroke="#8cc474" stroke-width="0.5"/>
<circle cx="437.90" cy="113.08" r="1.1" fill="#4fa834"/>
<circle cx="436.66" cy="112.46" r="1.1" fill="#4fa834"/>
<rect x="440.76" y="112.77" width="2.2" height="2.48" fill="#bcdca8" stroke="#8cc474" stroke-width="0.5"/>
<circle cx="441.47" cy="113.08" r="1.1" fill="#4fa834"/>
<circle cx="442.30" cy="112.46" r="1.1" fill="#4fa834"/>
<rect x="445.50" y="112.77" width="2.2" height="2.48" fill="#bcdca8" stroke="#8cc474" stroke-width="0.5"/>
<circle cx="446.33" cy="113.08" r="1.1" fill="#4fa834"/>
<circle cx="446.27" cy="112.46" r="1.1" fill="#4fa834"/>
<rect x="453.39" y="85.09" width="2.2" height="30.16" fill="#a9b2d6" stroke="#7c88bc" stroke-width="0.5"/>
<line x1="454.49" y1="78.83" x2="454.49" y2="94.34" stroke="#27468a" stroke-width="0.6"/>
<circle cx="453.81" cy="94.34" r="1.1" fill="#27468a"/>
<circle cx="453.83" cy="90.46" r="1.1" fill="#27468a"/>
<circle cx="454.62" cy="86.58" r="1.1" fill="#27468a"/>
<circle cx="454.08" cy="82.70" r="1.1" fill="#27468a"/>
<circle cx="454.65" cy="78.83" r="1.1" fill="#27468a"/>
<rect x="458.13" y="111.53" width="2.2" height="3.72" fill="#a9b2d6" stroke="#7c88bc" stroke-width="0.5"/>
<circle cx="459.02" cy="112.15" r="1.1" fill="#27468a"/>
<circle cx="459.16" cy="110.91" r="1.1" fill="#27468a"/>
<circle cx="459.96" cy="104.08" r="1.1" fill="#27468a"/>
<rect x="462.87" y="111.53" width="2.2" height="3.72" fill="#a9b2d6" stroke="#7c88bc" stroke-width="0.5"/>
<circle cx="463.94" cy="112.15" r="1.1" fill="#27468a"/>
<circle cx="464.09" cy="110.91" r="1.1" fill="#27468a"/>
<circle cx="464.56" cy="109.05" r="1.1" fill="#27468a"/>
<rect x="467.61" y="111.53" width="2.2" height="3.72" fill="#a9b2d6" stroke="#7c88bc" stroke-width="0.5"/>
<circle cx="468.20" cy="112.15" r="1.1" fill="#27468a"/>
<circle cx="468.16" cy="110.91" r="1.1" fill="#27468a"/>
<circle cx="469.36" cy="108.42" r="1.1" fill="#27468a"/>
<rect x="472.35" y="112.15" width="2.2" height="3.10" fill="#a9b2d6" stroke="#7c88bc" stroke-width="0.5"/>
<circle cx="473.96" cy="112.46" r="1.1" fill="#27468a"/>
<circle cx="473.05" cy="111.53" r="1.1" fill="#27468a"/>
<circle cx="472.95" cy="110.29" r="1.1" fill="#27468a"/>
<rect x="477.09" y="112.77" width="2.2" height="2.48" fill="#a9b2d6" stroke="#7c88bc" stroke-width="0.5"/>
<circle cx="478.57" cy="113.08" r="1.1" fill="#27468a"/>
<circle cx="478.89" cy="112.15" r="1.1" fill="#27468a"/>
<rect x="484.98" y="68.28" width="2.2" height="46.97" fill="#e4a89e" stroke="#d28a7e" stroke-width="0.5"/>
<line x1="486.08" y1="64.99" x2="486.08" y2="78.33" stroke="#b3133b" stroke-width="0.6"/>
<circle cx="485.59" cy="78.33" r="1.1" fill="#b3133b"/>
<circle cx="486.80" cy="75.00" r="1.1" fill="#b3133b"/>
<circle cx="486.69" cy="71.66" r="1.1" fill="#b3133b"/>
<circle cx="486.25" cy="68.32" r="1.1" fill="#b3133b"/>
<circle cx="485.95" cy="64.99" r="1.1" fill="#b3133b"/>
<rect x="489.72" y="111.22" width="2.2" height="4.03" fill="#e4a89e" stroke="#d28a7e" stroke-width="0.5"/>
<circle cx="490.19" cy="112.15" r="1.1" fill="#b3133b"/>
<circle cx="490.08" cy="109.98" r="1.1" fill="#b3133b"/>
<rect x="494.46" y="112.77" width="2.2" height="2.48" fill="#e4a89e" stroke="#d28a7e" stroke-width="0.5"/>
<circle cx="496.30" cy="113.08" r="1.1" fill="#b3133b"/>
<circle cx="495.14" cy="112.15" r="1.1" fill="#b3133b"/>
<rect x="499.20" y="112.77" width="2.2" height="2.48" fill="#e4a89e" stroke="#d28a7e" stroke-width="0.5"/>
<circle cx="500.63" cy="113.08" r="1.1" fill="#b3133b"/>
<circle cx="499.91" cy="112.15" r="1.1" fill="#b3133b"/>
<rect x="503.94" y="112.77" width="2.2" height="2.48" fill="#e4a89e" stroke="#d28a7e" stroke-width="0.5"/>
<circle cx="505.56" cy="113.08" r="1.1" fill="#b3133b"/>
<circle cx="505.19" cy="112.15" r="1.1" fill="#b3133b"/>
<rect x="508.68" y="113.08" width="2.2" height="2.17" fill="#e4a89e" stroke="#d28a7e" stroke-width="0.5"/>
<circle cx="509.45" cy="113.39" r="1.1" fill="#b3133b"/>
<circle cx="509.26" cy="112.46" r="1.1" fill="#b3133b"/>
<path d="M429.70,135.50V141.00M432.00,135.50L429.95,138.69M430.70,137.70L432.10,141.00M433.15,135.50V141.00M433.15,135.92H435.25M433.15,138.25H435.05M433.15,140.58H435.30M436.25,135.50V141.00M436.25,140.58H438.55" fill="none" stroke="#111" stroke-width="1.0"/>
<text x="438.95" y="137.60" font-size="4.6" text-anchor="start" font-weight="normal" fill="#111" stroke="#111" stroke-width="0.2" textLength="2.8" lengthAdjust="spacingAndGlyphs">lo</text>
<text x="0" y="0" font-size="4.9" fill="#505050" stroke="#505050" stroke-width="0.16" textLength="9.6" lengthAdjust="spacingAndGlyphs" transform="translate(421.30,118.85) rotate(90)">10m</text>
<text x="0" y="0" font-size="4.9" fill="#505050" stroke="#505050" stroke-width="0.16" textLength="5.2" lengthAdjust="spacingAndGlyphs" transform="translate(426.04,118.85) rotate(90)">1h</text>
<text x="0" y="0" font-size="4.9" fill="#505050" stroke="#505050" stroke-width="0.16" textLength="5.2" lengthAdjust="spacingAndGlyphs" transform="translate(430.78,118.85) rotate(90)">2h</text>
<text x="0" y="0" font-size="4.9" fill="#505050" stroke="#505050" stroke-width="0.16" textLength="5.2" lengthAdjust="spacingAndGlyphs" transform="translate(435.52,118.85) rotate(90)">4h</text>
<text x="0" y="0" font-size="4.9" fill="#505050" stroke="#505050" stroke-width="0.16" textLength="5.2" lengthAdjust="spacingAndGlyphs" transform="translate(440.26,118.85) rotate(90)">6h</text>
<text x="0" y="0" font-size="4.9" fill="#505050" stroke="#505050" stroke-width="0.16" textLength="8.4" lengthAdjust="spacingAndGlyphs" transform="translate(445.00,118.85) rotate(90)">24h</text>
<path d="M458.90,135.50V141.00M461.20,135.50L459.15,138.69M459.90,137.70L461.30,141.00M462.35,135.50V141.00M462.35,135.92H464.45M462.35,138.25H464.25M462.35,140.58H464.50M465.45,135.50V141.00M465.45,140.58H467.75" fill="none" stroke="#111" stroke-width="1.0"/>
<text x="468.15" y="137.60" font-size="4.6" text-anchor="start" font-weight="normal" fill="#111" stroke="#111" stroke-width="0.2" textLength="6.3" lengthAdjust="spacingAndGlyphs">med</text>
<text x="0" y="0" font-size="4.9" fill="#505050" stroke="#505050" stroke-width="0.16" textLength="9.6" lengthAdjust="spacingAndGlyphs" transform="translate(452.89,118.85) rotate(90)">10m</text>
<text x="0" y="0" font-size="4.9" fill="#505050" stroke="#505050" stroke-width="0.16" textLength="5.2" lengthAdjust="spacingAndGlyphs" transform="translate(457.63,118.85) rotate(90)">1h</text>
<text x="0" y="0" font-size="4.9" fill="#505050" stroke="#505050" stroke-width="0.16" textLength="5.2" lengthAdjust="spacingAndGlyphs" transform="translate(462.37,118.85) rotate(90)">2h</text>
<text x="0" y="0" font-size="4.9" fill="#505050" stroke="#505050" stroke-width="0.16" textLength="5.2" lengthAdjust="spacingAndGlyphs" transform="translate(467.11,118.85) rotate(90)">4h</text>
<text x="0" y="0" font-size="4.9" fill="#505050" stroke="#505050" stroke-width="0.16" textLength="5.2" lengthAdjust="spacingAndGlyphs" transform="translate(471.85,118.85) rotate(90)">6h</text>
<text x="0" y="0" font-size="4.9" fill="#505050" stroke="#505050" stroke-width="0.16" textLength="8.4" lengthAdjust="spacingAndGlyphs" transform="translate(476.59,118.85) rotate(90)">24h</text>
<path d="M491.85,135.50V141.00M494.15,135.50L492.10,138.69M492.85,137.70L494.25,141.00M495.30,135.50V141.00M495.30,135.92H497.40M495.30,138.25H497.20M495.30,140.58H497.45M498.40,135.50V141.00M498.40,140.58H500.70" fill="none" stroke="#111" stroke-width="1.0"/>
<text x="501.10" y="137.60" font-size="4.6" text-anchor="start" font-weight="normal" fill="#111" stroke="#111" stroke-width="0.2" textLength="2.6" lengthAdjust="spacingAndGlyphs">hi</text>
<text x="0" y="0" font-size="4.9" fill="#505050" stroke="#505050" stroke-width="0.16" textLength="9.6" lengthAdjust="spacingAndGlyphs" transform="translate(484.48,118.85) rotate(90)">10m</text>
<text x="0" y="0" font-size="4.9" fill="#505050" stroke="#505050" stroke-width="0.16" textLength="5.2" lengthAdjust="spacingAndGlyphs" transform="translate(489.22,118.85) rotate(90)">1h</text>
<text x="0" y="0" font-size="4.9" fill="#505050" stroke="#505050" stroke-width="0.16" textLength="5.2" lengthAdjust="spacingAndGlyphs" transform="translate(493.96,118.85) rotate(90)">2h</text>
<text x="0" y="0" font-size="4.9" fill="#505050" stroke="#505050" stroke-width="0.16" textLength="5.2" lengthAdjust="spacingAndGlyphs" transform="translate(498.70,118.85) rotate(90)">4h</text>
<text x="0" y="0" font-size="4.9" fill="#505050" stroke="#505050" stroke-width="0.16" textLength="5.2" lengthAdjust="spacingAndGlyphs" transform="translate(503.44,118.85) rotate(90)">6h</text>
<text x="0" y="0" font-size="4.9" fill="#505050" stroke="#505050" stroke-width="0.16" textLength="8.4" lengthAdjust="spacingAndGlyphs" transform="translate(508.18,118.85) rotate(90)">24h</text>
<line x1="426.10" y1="107.30" x2="450.00" y2="107.30" stroke="#222" stroke-width="1.1"/>
<circle cx="438.05" cy="105.30" r="0.65" fill="#333"/>
<line x1="457.50" y1="99.60" x2="481.00" y2="99.60" stroke="#222" stroke-width="1.1"/>
<circle cx="469.25" cy="97.60" r="0.65" fill="#333"/>
<line x1="488.70" y1="104.30" x2="512.90" y2="104.30" stroke="#222" stroke-width="1.1"/>
<circle cx="500.80" cy="102.30" r="0.65" fill="#333"/>
<text x="9.30" y="181.45" font-size="11.2" text-anchor="start" font-weight="bold" fill="#000" stroke="#000" stroke-width="0.55">E</text>
<text x="81.70" y="191.05" font-size="8.4" text-anchor="middle" font-weight="normal" fill="#000" stroke="#000" stroke-width="0.05" textLength="14.8" lengthAdjust="spacingAndGlyphs">PBS</text>
<text x="0" y="0" font-size="20" text-anchor="middle" letter-spacing="1.2" fill="#111" stroke="#111" stroke-width="0.75" transform="translate(15.30,227.70) rotate(-90) scale(0.2348,0.2917)">Total C3 MFI</text>
<line x1="35.30" y1="195.95" x2="35.30" y2="261.10" stroke="#000" stroke-width="1.25"/>
<line x1="34.70" y1="260.50" x2="128.50" y2="260.50" stroke="#000" stroke-width="1.25"/>
<line x1="32.10" y1="260.50" x2="35.30" y2="260.50" stroke="#000" stroke-width="0.8"/>
<text x="29.40" y="262.40" font-size="5.2" text-anchor="end" font-weight="normal" fill="#2a2a2a" textLength="3.0" lengthAdjust="spacingAndGlyphs">0</text>
<line x1="32.10" y1="239.82" x2="35.30" y2="239.82" stroke="#000" stroke-width="0.8"/>
<text x="29.40" y="241.72" font-size="5.2" text-anchor="end" font-weight="normal" fill="#2a2a2a" textLength="6.0" lengthAdjust="spacingAndGlyphs">50</text>
<line x1="32.10" y1="219.13" x2="35.30" y2="219.13" stroke="#000" stroke-width="0.8"/>
<text x="29.40" y="221.03" font-size="5.2" text-anchor="end" font-weight="normal" fill="#2a2a2a" textLength="9.0" lengthAdjust="spacingAndGlyphs">100</text>
<line x1="32.10" y1="198.45" x2="35.30" y2="198.45" stroke="#000" stroke-width="0.8"/>
<text x="29.40" y="200.35" font-size="5.2" text-anchor="end" font-weight="normal" fill="#2a2a2a" textLength="9.0" lengthAdjust="spacingAndGlyphs">150</text>
<line x1="33.50" y1="258.43" x2="35.30" y2="258.43" stroke="#111" stroke-width="0.6"/>
<line x1="33.50" y1="256.36" x2="35.30" y2="256.36" stroke="#111" stroke-width="0.6"/>
<line x1="33.50" y1="254.29" x2="35.30" y2="254.29" stroke="#111" stroke-width="0.6"/>
<line x1="33.50" y1="252.23" x2="35.30" y2="252.23" stroke="#111" stroke-width="0.6"/>
<line x1="33.50" y1="250.16" x2="35.30" y2="250.16" stroke="#111" stroke-width="0.6"/>
<line x1="33.50" y1="248.09" x2="35.30" y2="248.09" stroke="#111" stroke-width="0.6"/>
<line x1="33.50" y1="246.02" x2="35.30" y2="246.02" stroke="#111" stroke-width="0.6"/>
<line x1="33.50" y1="243.95" x2="35.30" y2="243.95" stroke="#111" stroke-width="0.6"/>
<line x1="33.50" y1="241.88" x2="35.30" y2="241.88" stroke="#111" stroke-width="0.6"/>
<line x1="33.50" y1="237.75" x2="35.30" y2="237.75" stroke="#111" stroke-width="0.6"/>
<line x1="33.50" y1="235.68" x2="35.30" y2="235.68" stroke="#111" stroke-width="0.6"/>
<line x1="33.50" y1="233.61" x2="35.30" y2="233.61" stroke="#111" stroke-width="0.6"/>
<line x1="33.50" y1="231.54" x2="35.30" y2="231.54" stroke="#111" stroke-width="0.6"/>
<line x1="33.50" y1="229.47" x2="35.30" y2="229.47" stroke="#111" stroke-width="0.6"/>
<line x1="33.50" y1="227.41" x2="35.30" y2="227.41" stroke="#111" stroke-width="0.6"/>
<line x1="33.50" y1="225.34" x2="35.30" y2="225.34" stroke="#111" stroke-width="0.6"/>
<line x1="33.50" y1="223.27" x2="35.30" y2="223.27" stroke="#111" stroke-width="0.6"/>
<line x1="33.50" y1="221.20" x2="35.30" y2="221.20" stroke="#111" stroke-width="0.6"/>
<line x1="33.50" y1="217.06" x2="35.30" y2="217.06" stroke="#111" stroke-width="0.6"/>
<line x1="33.50" y1="215.00" x2="35.30" y2="215.00" stroke="#111" stroke-width="0.6"/>
<line x1="33.50" y1="212.93" x2="35.30" y2="212.93" stroke="#111" stroke-width="0.6"/>
<line x1="33.50" y1="210.86" x2="35.30" y2="210.86" stroke="#111" stroke-width="0.6"/>
<line x1="33.50" y1="208.79" x2="35.30" y2="208.79" stroke="#111" stroke-width="0.6"/>
<line x1="33.50" y1="206.72" x2="35.30" y2="206.72" stroke="#111" stroke-width="0.6"/>
<line x1="33.50" y1="204.65" x2="35.30" y2="204.65" stroke="#111" stroke-width="0.6"/>
<line x1="33.50" y1="202.59" x2="35.30" y2="202.59" stroke="#111" stroke-width="0.6"/>
<line x1="33.50" y1="200.52" x2="35.30" y2="200.52" stroke="#111" stroke-width="0.6"/>
<line x1="66.30" y1="198.75" x2="66.30" y2="274.45" stroke="#111" stroke-width="1.2" stroke-dasharray="1.25 1.67"/>
<line x1="97.20" y1="198.75" x2="97.20" y2="274.45" stroke="#111" stroke-width="1.2" stroke-dasharray="1.25 1.67"/>
<rect x="37.10" y="258.85" width="2.2" height="1.65" fill="#bcdca8" stroke="#8cc474" stroke-width="0.5"/>
<ellipse cx="38.20" cy="259.40" rx="1.55" ry="1.5" fill="#4fa834"/>
<rect x="41.84" y="258.85" width="2.2" height="1.65" fill="#bcdca8" stroke="#8cc474" stroke-width="0.5"/>
<ellipse cx="42.94" cy="259.40" rx="1.55" ry="1.5" fill="#4fa834"/>
<rect x="46.58" y="258.85" width="2.2" height="1.65" fill="#bcdca8" stroke="#8cc474" stroke-width="0.5"/>
<ellipse cx="47.68" cy="259.40" rx="1.55" ry="1.5" fill="#4fa834"/>
<rect x="51.32" y="258.85" width="2.2" height="1.65" fill="#bcdca8" stroke="#8cc474" stroke-width="0.5"/>
<ellipse cx="52.42" cy="259.40" rx="1.55" ry="1.5" fill="#4fa834"/>
<rect x="56.06" y="258.85" width="2.2" height="1.65" fill="#bcdca8" stroke="#8cc474" stroke-width="0.5"/>
<ellipse cx="57.16" cy="259.40" rx="1.55" ry="1.5" fill="#4fa834"/>
<rect x="60.80" y="258.85" width="2.2" height="1.65" fill="#bcdca8" stroke="#8cc474" stroke-width="0.5"/>
<ellipse cx="61.90" cy="259.40" rx="1.55" ry="1.5" fill="#4fa834"/>
<rect x="68.69" y="258.85" width="2.2" height="1.65" fill="#a9b2d6" stroke="#7c88bc" stroke-width="0.5"/>
<ellipse cx="69.79" cy="259.40" rx="1.55" ry="1.5" fill="#27468a"/>
<rect x="73.43" y="258.85" width="2.2" height="1.65" fill="#a9b2d6" stroke="#7c88bc" stroke-width="0.5"/>
<ellipse cx="74.53" cy="259.40" rx="1.55" ry="1.5" fill="#27468a"/>
<rect x="78.17" y="258.85" width="2.2" height="1.65" fill="#a9b2d6" stroke="#7c88bc" stroke-width="0.5"/>
<ellipse cx="79.27" cy="259.40" rx="1.55" ry="1.5" fill="#27468a"/>
<rect x="82.91" y="258.85" width="2.2" height="1.65" fill="#a9b2d6" stroke="#7c88bc" stroke-width="0.5"/>
<ellipse cx="84.01" cy="259.40" rx="1.55" ry="1.5" fill="#27468a"/>
<rect x="87.65" y="258.85" width="2.2" height="1.65" fill="#a9b2d6" stroke="#7c88bc" stroke-width="0.5"/>
<ellipse cx="88.75" cy="259.40" rx="1.55" ry="1.5" fill="#27468a"/>
<rect x="92.39" y="258.85" width="2.2" height="1.65" fill="#a9b2d6" stroke="#7c88bc" stroke-width="0.5"/>
<ellipse cx="93.49" cy="259.40" rx="1.55" ry="1.5" fill="#27468a"/>
<rect x="100.28" y="258.85" width="2.2" height="1.65" fill="#e4a89e" stroke="#d28a7e" stroke-width="0.5"/>
<ellipse cx="101.38" cy="259.40" rx="1.55" ry="1.5" fill="#b3133b"/>
<rect x="105.02" y="258.85" width="2.2" height="1.65" fill="#e4a89e" stroke="#d28a7e" stroke-width="0.5"/>
<ellipse cx="106.12" cy="259.40" rx="1.55" ry="1.5" fill="#b3133b"/>
<rect x="109.76" y="258.85" width="2.2" height="1.65" fill="#e4a89e" stroke="#d28a7e" stroke-width="0.5"/>
<ellipse cx="110.86" cy="259.40" rx="1.55" ry="1.5" fill="#b3133b"/>
<rect x="114.50" y="258.85" width="2.2" height="1.65" fill="#e4a89e" stroke="#d28a7e" stroke-width="0.5"/>
<ellipse cx="115.60" cy="259.40" rx="1.55" ry="1.5" fill="#b3133b"/>
<rect x="119.24" y="258.85" width="2.2" height="1.65" fill="#e4a89e" stroke="#d28a7e" stroke-width="0.5"/>
<ellipse cx="120.34" cy="259.40" rx="1.55" ry="1.5" fill="#b3133b"/>
<rect x="123.98" y="258.85" width="2.2" height="1.65" fill="#e4a89e" stroke="#d28a7e" stroke-width="0.5"/>
<ellipse cx="125.08" cy="259.40" rx="1.55" ry="1.5" fill="#b3133b"/>
<path d="M45.00,280.75V286.25M47.30,280.75L45.25,283.94M46.00,282.95L47.40,286.25M48.45,280.75V286.25M48.45,281.17H50.55M48.45,283.50H50.35M48.45,285.83H50.60M51.55,280.75V286.25M51.55,285.83H53.85" fill="none" stroke="#111" stroke-width="1.0"/>
<text x="54.25" y="282.85" font-size="4.6" text-anchor="start" font-weight="normal" fill="#111" stroke="#111" stroke-width="0.2" textLength="2.8" lengthAdjust="spacingAndGlyphs">lo</text>
<text x="0" y="0" font-size="4.9" fill="#505050" stroke="#505050" stroke-width="0.16" textLength="9.6" lengthAdjust="spacingAndGlyphs" transform="translate(36.60,264.10) rotate(90)">10m</text>
<text x="0" y="0" font-size="4.9" fill="#505050" stroke="#505050" stroke-width="0.16" textLength="5.2" lengthAdjust="spacingAndGlyphs" transform="translate(41.34,264.10) rotate(90)">1h</text>
<text x="0" y="0" font-size="4.9" fill="#505050" stroke="#505050" stroke-width="0.16" textLength="5.2" lengthAdjust="spacingAndGlyphs" transform="translate(46.08,264.10) rotate(90)">2h</text>
<text x="0" y="0" font-size="4.9" fill="#505050" stroke="#505050" stroke-width="0.16" textLength="5.2" lengthAdjust="spacingAndGlyphs" transform="translate(50.82,264.10) rotate(90)">4h</text>
<text x="0" y="0" font-size="4.9" fill="#505050" stroke="#505050" stroke-width="0.16" textLength="5.2" lengthAdjust="spacingAndGlyphs" transform="translate(55.56,264.10) rotate(90)">6h</text>
<text x="0" y="0" font-size="4.9" fill="#505050" stroke="#505050" stroke-width="0.16" textLength="8.4" lengthAdjust="spacingAndGlyphs" transform="translate(60.30,264.10) rotate(90)">24h</text>
<path d="M74.20,280.75V286.25M76.50,280.75L74.45,283.94M75.20,282.95L76.60,286.25M77.65,280.75V286.25M77.65,281.17H79.75M77.65,283.50H79.55M77.65,285.83H79.80M80.75,280.75V286.25M80.75,285.83H83.05" fill="none" stroke="#111" stroke-width="1.0"/>
<text x="83.45" y="282.85" font-size="4.6" text-anchor="start" font-weight="normal" fill="#111" stroke="#111" stroke-width="0.2" textLength="6.3" lengthAdjust="spacingAndGlyphs">med</text>
<text x="0" y="0" font-size="4.9" fill="#505050" stroke="#505050" stroke-width="0.16" textLength="9.6" lengthAdjust="spacingAndGlyphs" transform="translate(68.19,264.10) rotate(90)">10m</text>
<text x="0" y="0" font-size="4.9" fill="#505050" stroke="#505050" stroke-width="0.16" textLength="5.2" lengthAdjust="spacingAndGlyphs" transform="translate(72.93,264.10) rotate(90)">1h</text>
<text x="0" y="0" font-size="4.9" fill="#505050" stroke="#505050" stroke-width="0.16" textLength="5.2" lengthAdjust="spacingAndGlyphs" transform="translate(77.67,264.10) rotate(90)">2h</text>
<text x="0" y="0" font-size="4.9" fill="#505050" stroke="#505050" stroke-width="0.16" textLength="5.2" lengthAdjust="spacingAndGlyphs" transform="translate(82.41,264.10) rotate(90)">4h</text>
<text x="0" y="0" font-size="4.9" fill="#505050" stroke="#505050" stroke-width="0.16" textLength="5.2" lengthAdjust="spacingAndGlyphs" transform="translate(87.15,264.10) rotate(90)">6h</text>
<text x="0" y="0" font-size="4.9" fill="#505050" stroke="#505050" stroke-width="0.16" textLength="8.4" lengthAdjust="spacingAndGlyphs" transform="translate(91.89,264.10) rotate(90)">24h</text>
<path d="M107.15,280.75V286.25M109.45,280.75L107.40,283.94M108.15,282.95L109.55,286.25M110.60,280.75V286.25M110.60,281.17H112.70M110.60,283.50H112.50M110.60,285.83H112.75M113.70,280.75V286.25M113.70,285.83H116.00" fill="none" stroke="#111" stroke-width="1.0"/>
<text x="116.40" y="282.85" font-size="4.6" text-anchor="start" font-weight="normal" fill="#111" stroke="#111" stroke-width="0.2" textLength="2.6" lengthAdjust="spacingAndGlyphs">hi</text>
<text x="0" y="0" font-size="4.9" fill="#505050" stroke="#505050" stroke-width="0.16" textLength="9.6" lengthAdjust="spacingAndGlyphs" transform="translate(99.78,264.10) rotate(90)">10m</text>
<text x="0" y="0" font-size="4.9" fill="#505050" stroke="#505050" stroke-width="0.16" textLength="5.2" lengthAdjust="spacingAndGlyphs" transform="translate(104.52,264.10) rotate(90)">1h</text>
<text x="0" y="0" font-size="4.9" fill="#505050" stroke="#505050" stroke-width="0.16" textLength="5.2" lengthAdjust="spacingAndGlyphs" transform="translate(109.26,264.10) rotate(90)">2h</text>
<text x="0" y="0" font-size="4.9" fill="#505050" stroke="#505050" stroke-width="0.16" textLength="5.2" lengthAdjust="spacingAndGlyphs" transform="translate(114.00,264.10) rotate(90)">4h</text>
<text x="0" y="0" font-size="4.9" fill="#505050" stroke="#505050" stroke-width="0.16" textLength="5.2" lengthAdjust="spacingAndGlyphs" transform="translate(118.74,264.10) rotate(90)">6h</text>
<text x="0" y="0" font-size="4.9" fill="#505050" stroke="#505050" stroke-width="0.16" textLength="8.4" lengthAdjust="spacingAndGlyphs" transform="translate(123.48,264.10) rotate(90)">24h</text>
<text x="137.50" y="181.45" font-size="11.2" text-anchor="start" font-weight="bold" fill="#000" stroke="#000" stroke-width="0.55">F</text>
<text x="209.90" y="191.05" font-size="8.0" text-anchor="middle" font-weight="normal" fill="#000" stroke="#000" stroke-width="0.16" textLength="32.7" lengthAdjust="spacingAndGlyphs">Low αKEL</text>
<text x="0" y="0" font-size="20" text-anchor="middle" letter-spacing="1.2" fill="#111" stroke="#111" stroke-width="0.75" transform="translate(142.50,227.70) rotate(-90) scale(0.2348,0.2917)">Total C3 MFI</text>
<line x1="163.50" y1="195.95" x2="163.50" y2="261.10" stroke="#000" stroke-width="1.25"/>
<line x1="162.90" y1="260.50" x2="256.70" y2="260.50" stroke="#000" stroke-width="1.25"/>
<line x1="160.30" y1="260.50" x2="163.50" y2="260.50" stroke="#000" stroke-width="0.8"/>
<text x="157.60" y="262.40" font-size="5.2" text-anchor="end" font-weight="normal" fill="#2a2a2a" textLength="3.0" lengthAdjust="spacingAndGlyphs">0</text>
<line x1="160.30" y1="239.82" x2="163.50" y2="239.82" stroke="#000" stroke-width="0.8"/>
<text x="157.60" y="241.72" font-size="5.2" text-anchor="end" font-weight="normal" fill="#2a2a2a" textLength="6.0" lengthAdjust="spacingAndGlyphs">50</text>
<line x1="160.30" y1="219.13" x2="163.50" y2="219.13" stroke="#000" stroke-width="0.8"/>
<text x="157.60" y="221.03" font-size="5.2" text-anchor="end" font-weight="normal" fill="#2a2a2a" textLength="9.0" lengthAdjust="spacingAndGlyphs">100</text>
<line x1="160.30" y1="198.45" x2="163.50" y2="198.45" stroke="#000" stroke-width="0.8"/>
<text x="157.60" y="200.35" font-size="5.2" text-anchor="end" font-weight="normal" fill="#2a2a2a" textLength="9.0" lengthAdjust="spacingAndGlyphs">150</text>
<line x1="161.70" y1="258.43" x2="163.50" y2="258.43" stroke="#111" stroke-width="0.6"/>
<line x1="161.70" y1="256.36" x2="163.50" y2="256.36" stroke="#111" stroke-width="0.6"/>
<line x1="161.70" y1="254.29" x2="163.50" y2="254.29" stroke="#111" stroke-width="0.6"/>
<line x1="161.70" y1="252.23" x2="163.50" y2="252.23" stroke="#111" stroke-width="0.6"/>
<line x1="161.70" y1="250.16" x2="163.50" y2="250.16" stroke="#111" stroke-width="0.6"/>
<line x1="161.70" y1="248.09" x2="163.50" y2="248.09" stroke="#111" stroke-width="0.6"/>
<line x1="161.70" y1="246.02" x2="163.50" y2="246.02" stroke="#111" stroke-width="0.6"/>
<line x1="161.70" y1="243.95" x2="163.50" y2="243.95" stroke="#111" stroke-width="0.6"/>
<line x1="161.70" y1="241.88" x2="163.50" y2="241.88" stroke="#111" stroke-width="0.6"/>
<line x1="161.70" y1="237.75" x2="163.50" y2="237.75" stroke="#111" stroke-width="0.6"/>
<line x1="161.70" y1="235.68" x2="163.50" y2="235.68" stroke="#111" stroke-width="0.6"/>
<line x1="161.70" y1="233.61" x2="163.50" y2="233.61" stroke="#111" stroke-width="0.6"/>
<line x1="161.70" y1="231.54" x2="163.50" y2="231.54" stroke="#111" stroke-width="0.6"/>
<line x1="161.70" y1="229.47" x2="163.50" y2="229.47" stroke="#111" stroke-width="0.6"/>
<line x1="161.70" y1="227.41" x2="163.50" y2="227.41" stroke="#111" stroke-width="0.6"/>
<line x1="161.70" y1="225.34" x2="163.50" y2="225.34" stroke="#111" stroke-width="0.6"/>
<line x1="161.70" y1="223.27" x2="163.50" y2="223.27" stroke="#111" stroke-width="0.6"/>
<line x1="161.70" y1="221.20" x2="163.50" y2="221.20" stroke="#111" stroke-width="0.6"/>
<line x1="161.70" y1="217.06" x2="163.50" y2="217.06" stroke="#111" stroke-width="0.6"/>
<line x1="161.70" y1="215.00" x2="163.50" y2="215.00" stroke="#111" stroke-width="0.6"/>
<line x1="161.70" y1="212.93" x2="163.50" y2="212.93" stroke="#111" stroke-width="0.6"/>
<line x1="161.70" y1="210.86" x2="163.50" y2="210.86" stroke="#111" stroke-width="0.6"/>
<line x1="161.70" y1="208.79" x2="163.50" y2="208.79" stroke="#111" stroke-width="0.6"/>
<line x1="161.70" y1="206.72" x2="163.50" y2="206.72" stroke="#111" stroke-width="0.6"/>
<line x1="161.70" y1="204.65" x2="163.50" y2="204.65" stroke="#111" stroke-width="0.6"/>
<line x1="161.70" y1="202.59" x2="163.50" y2="202.59" stroke="#111" stroke-width="0.6"/>
<line x1="161.70" y1="200.52" x2="163.50" y2="200.52" stroke="#111" stroke-width="0.6"/>
<line x1="194.50" y1="198.75" x2="194.50" y2="274.45" stroke="#111" stroke-width="1.2" stroke-dasharray="1.25 1.67"/>
<line x1="225.40" y1="198.75" x2="225.40" y2="274.45" stroke="#111" stroke-width="1.2" stroke-dasharray="1.25 1.67"/>
<rect x="165.30" y="259.05" width="2.2" height="1.45" fill="#bcdca8" stroke="#8cc474" stroke-width="0.5"/>
<circle cx="166.75" cy="259.60" r="1.1" fill="#4fa834"/>
<circle cx="165.71" cy="259.05" r="1.1" fill="#4fa834"/>
<circle cx="165.97" cy="258.43" r="1.1" fill="#4fa834"/>
<rect x="170.04" y="258.43" width="2.2" height="2.07" fill="#bcdca8" stroke="#8cc474" stroke-width="0.5"/>
<circle cx="171.23" cy="259.26" r="1.1" fill="#4fa834"/>
<circle cx="171.70" cy="258.43" r="1.1" fill="#4fa834"/>
<circle cx="171.32" cy="257.60" r="1.1" fill="#4fa834"/>
<rect x="174.78" y="257.19" width="2.2" height="3.31" fill="#bcdca8" stroke="#8cc474" stroke-width="0.5"/>
<line x1="175.88" y1="255.54" x2="175.88" y2="258.85" stroke="#4fa834" stroke-width="0.6"/>
<circle cx="175.53" cy="258.85" r="1.1" fill="#4fa834"/>
<circle cx="176.55" cy="257.74" r="1.1" fill="#4fa834"/>
<circle cx="175.41" cy="256.64" r="1.1" fill="#4fa834"/>
<circle cx="175.11" cy="255.54" r="1.1" fill="#4fa834"/>
<rect x="179.52" y="254.71" width="2.2" height="5.79" fill="#bcdca8" stroke="#8cc474" stroke-width="0.5"/>
<line x1="180.62" y1="250.99" x2="180.62" y2="254.71" stroke="#4fa834" stroke-width="0.6"/>
<circle cx="180.25" cy="254.71" r="1.1" fill="#4fa834"/>
<circle cx="180.53" cy="253.47" r="1.1" fill="#4fa834"/>
<circle cx="179.92" cy="252.23" r="1.1" fill="#4fa834"/>
<circle cx="180.10" cy="250.99" r="1.1" fill="#4fa834"/>
<rect x="184.26" y="253.47" width="2.2" height="7.03" fill="#bcdca8" stroke="#8cc474" stroke-width="0.5"/>
<line x1="185.36" y1="249.33" x2="185.36" y2="254.29" stroke="#4fa834" stroke-width="0.6"/>
<circle cx="185.15" cy="254.29" r="1.1" fill="#4fa834"/>
<circle cx="185.48" cy="252.64" r="1.1" fill="#4fa834"/>
<circle cx="184.77" cy="250.99" r="1.1" fill="#4fa834"/>
<circle cx="185.14" cy="249.33" r="1.1" fill="#4fa834"/>
<rect x="189.00" y="249.33" width="2.2" height="11.17" fill="#bcdca8" stroke="#8cc474" stroke-width="0.5"/>
<line x1="190.10" y1="245.61" x2="190.10" y2="249.74" stroke="#4fa834" stroke-width="0.6"/>
<circle cx="190.73" cy="249.74" r="1.1" fill="#4fa834"/>
<circle cx="190.87" cy="248.37" r="1.1" fill="#4fa834"/>
<circle cx="190.35" cy="246.99" r="1.1" fill="#4fa834"/>
<circle cx="190.41" cy="245.61" r="1.1" fill="#4fa834"/>
<rect x="196.89" y="259.05" width="2.2" height="1.45" fill="#a9b2d6" stroke="#7c88bc" stroke-width="0.5"/>
<circle cx="198.13" cy="259.60" r="1.1" fill="#27468a"/>
<circle cx="197.41" cy="259.05" r="1.1" fill="#27468a"/>
<circle cx="197.25" cy="258.43" r="1.1" fill="#27468a"/>
<rect x="201.63" y="258.85" width="2.2" height="1.65" fill="#a9b2d6" stroke="#7c88bc" stroke-width="0.5"/>
<circle cx="201.96" cy="259.47" r="1.1" fill="#27468a"/>
<circle cx="203.39" cy="258.85" r="1.1" fill="#27468a"/>
<circle cx="203.05" cy="258.22" r="1.1" fill="#27468a"/>
<rect x="206.37" y="258.64" width="2.2" height="1.86" fill="#a9b2d6" stroke="#7c88bc" stroke-width="0.5"/>
<circle cx="208.21" cy="259.47" r="1.1" fill="#27468a"/>
<circle cx="206.70" cy="258.64" r="1.1" fill="#27468a"/>
<circle cx="207.69" cy="257.81" r="1.1" fill="#27468a"/>
<rect x="211.11" y="257.19" width="2.2" height="3.31" fill="#a9b2d6" stroke="#7c88bc" stroke-width="0.5"/>
<line x1="212.21" y1="255.12" x2="212.21" y2="258.85" stroke="#27468a" stroke-width="0.6"/>
<circle cx="212.18" cy="258.85" r="1.1" fill="#27468a"/>
<circle cx="212.58" cy="257.60" r="1.1" fill="#27468a"/>
<circle cx="211.92" cy="256.36" r="1.1" fill="#27468a"/>
<circle cx="213.01" cy="255.12" r="1.1" fill="#27468a"/>
<rect x="215.85" y="256.78" width="2.2" height="3.72" fill="#a9b2d6" stroke="#7c88bc" stroke-width="0.5"/>
<line x1="216.95" y1="254.09" x2="216.95" y2="258.85" stroke="#27468a" stroke-width="0.6"/>
<circle cx="216.27" cy="258.85" r="1.1" fill="#27468a"/>
<circle cx="217.02" cy="257.26" r="1.1" fill="#27468a"/>
<circle cx="217.33" cy="255.67" r="1.1" fill="#27468a"/>
<circle cx="217.59" cy="254.09" r="1.1" fill="#27468a"/>
<rect x="220.59" y="251.81" width="2.2" height="8.69" fill="#a9b2d6" stroke="#7c88bc" stroke-width="0.5"/>
<line x1="221.69" y1="251.81" x2="221.69" y2="256.36" stroke="#27468a" stroke-width="0.6"/>
<circle cx="222.07" cy="256.36" r="1.1" fill="#27468a"/>
<circle cx="222.02" cy="254.09" r="1.1" fill="#27468a"/>
<circle cx="222.16" cy="251.81" r="1.1" fill="#27468a"/>
<circle cx="222.35" cy="248.92" r="1.1" fill="#27468a"/>
<rect x="228.48" y="259.26" width="2.2" height="1.24" fill="#e4a89e" stroke="#d28a7e" stroke-width="0.5"/>
<circle cx="229.34" cy="259.60" r="1.1" fill="#b3133b"/>
<circle cx="229.88" cy="259.26" r="1.1" fill="#b3133b"/>
<circle cx="230.22" cy="258.43" r="1.1" fill="#b3133b"/>
<rect x="233.22" y="258.64" width="2.2" height="1.86" fill="#e4a89e" stroke="#d28a7e" stroke-width="0.5"/>
<circle cx="234.91" cy="259.60" r="1.1" fill="#b3133b"/>
<circle cx="234.19" cy="259.12" r="1.1" fill="#b3133b"/>
<circle cx="234.78" cy="258.16" r="1.1" fill="#b3133b"/>
<circle cx="234.90" cy="257.19" r="1.1" fill="#b3133b"/>
<rect x="237.96" y="258.22" width="2.2" height="2.28" fill="#e4a89e" stroke="#d28a7e" stroke-width="0.5"/>
<line x1="239.06" y1="256.36" x2="239.06" y2="260.09" stroke="#b3133b" stroke-width="0.6"/>
<circle cx="239.18" cy="259.60" r="1.1" fill="#b3133b"/>
<circle cx="239.26" cy="258.85" r="1.1" fill="#b3133b"/>
<circle cx="238.87" cy="257.60" r="1.1" fill="#b3133b"/>
<circle cx="239.19" cy="256.36" r="1.1" fill="#b3133b"/>
<rect x="242.70" y="256.78" width="2.2" height="3.72" fill="#e4a89e" stroke="#d28a7e" stroke-width="0.5"/>
<line x1="243.80" y1="254.29" x2="243.80" y2="259.47" stroke="#b3133b" stroke-width="0.6"/>
<circle cx="243.97" cy="259.47" r="1.1" fill="#b3133b"/>
<circle cx="243.13" cy="257.74" r="1.1" fill="#b3133b"/>
<circle cx="244.02" cy="256.02" r="1.1" fill="#b3133b"/>
<circle cx="244.59" cy="254.29" r="1.1" fill="#b3133b"/>
<rect x="247.44" y="256.57" width="2.2" height="3.93" fill="#e4a89e" stroke="#d28a7e" stroke-width="0.5"/>
<line x1="248.54" y1="253.88" x2="248.54" y2="259.47" stroke="#b3133b" stroke-width="0.6"/>
<circle cx="249.15" cy="259.47" r="1.1" fill="#b3133b"/>
<circle cx="248.91" cy="257.60" r="1.1" fill="#b3133b"/>
<circle cx="248.36" cy="255.74" r="1.1" fill="#b3133b"/>
<circle cx="248.92" cy="253.88" r="1.1" fill="#b3133b"/>
<rect x="252.18" y="255.12" width="2.2" height="5.38" fill="#e4a89e" stroke="#d28a7e" stroke-width="0.5"/>
<line x1="253.28" y1="253.88" x2="253.28" y2="259.47" stroke="#b3133b" stroke-width="0.6"/>
<circle cx="253.41" cy="259.47" r="1.1" fill="#b3133b"/>
<circle cx="253.18" cy="257.60" r="1.1" fill="#b3133b"/>
<circle cx="253.82" cy="255.74" r="1.1" fill="#b3133b"/>
<circle cx="252.61" cy="253.88" r="1.1" fill="#b3133b"/>
<circle cx="253.68" cy="252.23" r="1.1" fill="#b3133b"/>
<path d="M173.20,280.75V286.25M175.50,280.75L173.45,283.94M174.20,282.95L175.60,286.25M176.65,280.75V286.25M176.65,281.17H178.75M176.65,283.50H178.55M176.65,285.83H178.80M179.75,280.75V286.25M179.75,285.83H182.05" fill="none" stroke="#111" stroke-width="1.0"/>
<text x="182.45" y="282.85" font-size="4.6" text-anchor="start" font-weight="normal" fill="#111" stroke="#111" stroke-width="0.2" textLength="2.8" lengthAdjust="spacingAndGlyphs">lo</text>
<text x="0" y="0" font-size="4.9" fill="#505050" stroke="#505050" stroke-width="0.16" textLength="9.6" lengthAdjust="spacingAndGlyphs" transform="translate(164.80,264.10) rotate(90)">10m</text>
<text x="0" y="0" font-size="4.9" fill="#505050" stroke="#505050" stroke-width="0.16" textLength="5.2" lengthAdjust="spacingAndGlyphs" transform="translate(169.54,264.10) rotate(90)">1h</text>
<text x="0" y="0" font-size="4.9" fill="#505050" stroke="#505050" stroke-width="0.16" textLength="5.2" lengthAdjust="spacingAndGlyphs" transform="translate(174.28,264.10) rotate(90)">2h</text>
<text x="0" y="0" font-size="4.9" fill="#505050" stroke="#505050" stroke-width="0.16" textLength="5.2" lengthAdjust="spacingAndGlyphs" transform="translate(179.02,264.10) rotate(90)">4h</text>
<text x="0" y="0" font-size="4.9" fill="#505050" stroke="#505050" stroke-width="0.16" textLength="5.2" lengthAdjust="spacingAndGlyphs" transform="translate(183.76,264.10) rotate(90)">6h</text>
<text x="0" y="0" font-size="4.9" fill="#505050" stroke="#505050" stroke-width="0.16" textLength="8.4" lengthAdjust="spacingAndGlyphs" transform="translate(188.50,264.10) rotate(90)">24h</text>
<path d="M202.40,280.75V286.25M204.70,280.75L202.65,283.94M203.40,282.95L204.80,286.25M205.85,280.75V286.25M205.85,281.17H207.95M205.85,283.50H207.75M205.85,285.83H208.00M208.95,280.75V286.25M208.95,285.83H211.25" fill="none" stroke="#111" stroke-width="1.0"/>
<text x="211.65" y="282.85" font-size="4.6" text-anchor="start" font-weight="normal" fill="#111" stroke="#111" stroke-width="0.2" textLength="6.3" lengthAdjust="spacingAndGlyphs">med</text>
<text x="0" y="0" font-size="4.9" fill="#505050" stroke="#505050" stroke-width="0.16" textLength="9.6" lengthAdjust="spacingAndGlyphs" transform="translate(196.39,264.10) rotate(90)">10m</text>
<text x="0" y="0" font-size="4.9" fill="#505050" stroke="#505050" stroke-width="0.16" textLength="5.2" lengthAdjust="spacingAndGlyphs" transform="translate(201.13,264.10) rotate(90)">1h</text>
<text x="0" y="0" font-size="4.9" fill="#505050" stroke="#505050" stroke-width="0.16" textLength="5.2" lengthAdjust="spacingAndGlyphs" transform="translate(205.87,264.10) rotate(90)">2h</text>
<text x="0" y="0" font-size="4.9" fill="#505050" stroke="#505050" stroke-width="0.16" textLength="5.2" lengthAdjust="spacingAndGlyphs" transform="translate(210.61,264.10) rotate(90)">4h</text>
<text x="0" y="0" font-size="4.9" fill="#505050" stroke="#505050" stroke-width="0.16" textLength="5.2" lengthAdjust="spacingAndGlyphs" transform="translate(215.35,264.10) rotate(90)">6h</text>
<text x="0" y="0" font-size="4.9" fill="#505050" stroke="#505050" stroke-width="0.16" textLength="8.4" lengthAdjust="spacingAndGlyphs" transform="translate(220.09,264.10) rotate(90)">24h</text>
<path d="M235.35,280.75V286.25M237.65,280.75L235.60,283.94M236.35,282.95L237.75,286.25M238.80,280.75V286.25M238.80,281.17H240.90M238.80,283.50H240.70M238.80,285.83H240.95M241.90,280.75V286.25M241.90,285.83H244.20" fill="none" stroke="#111" stroke-width="1.0"/>
<text x="244.60" y="282.85" font-size="4.6" text-anchor="start" font-weight="normal" fill="#111" stroke="#111" stroke-width="0.2" textLength="2.6" lengthAdjust="spacingAndGlyphs">hi</text>
<text x="0" y="0" font-size="4.9" fill="#505050" stroke="#505050" stroke-width="0.16" textLength="9.6" lengthAdjust="spacingAndGlyphs" transform="translate(227.98,264.10) rotate(90)">10m</text>
<text x="0" y="0" font-size="4.9" fill="#505050" stroke="#505050" stroke-width="0.16" textLength="5.2" lengthAdjust="spacingAndGlyphs" transform="translate(232.72,264.10) rotate(90)">1h</text>
<text x="0" y="0" font-size="4.9" fill="#505050" stroke="#505050" stroke-width="0.16" textLength="5.2" lengthAdjust="spacingAndGlyphs" transform="translate(237.46,264.10) rotate(90)">2h</text>
<text x="0" y="0" font-size="4.9" fill="#505050" stroke="#505050" stroke-width="0.16" textLength="5.2" lengthAdjust="spacingAndGlyphs" transform="translate(242.20,264.10) rotate(90)">4h</text>
<text x="0" y="0" font-size="4.9" fill="#505050" stroke="#505050" stroke-width="0.16" textLength="5.2" lengthAdjust="spacingAndGlyphs" transform="translate(246.94,264.10) rotate(90)">6h</text>
<text x="0" y="0" font-size="4.9" fill="#505050" stroke="#505050" stroke-width="0.16" textLength="8.4" lengthAdjust="spacingAndGlyphs" transform="translate(251.68,264.10) rotate(90)">24h</text>
<line x1="174.40" y1="241.25" x2="192.40" y2="241.25" stroke="#222" stroke-width="1.1"/>
<circle cx="183.40" cy="239.25" r="0.65" fill="#333"/>
<line x1="210.10" y1="246.15" x2="223.80" y2="246.15" stroke="#222" stroke-width="1.1"/>
<circle cx="216.95" cy="244.15" r="0.65" fill="#333"/>
<line x1="238.00" y1="250.15" x2="256.00" y2="250.15" stroke="#222" stroke-width="1.1"/>
<circle cx="247.00" cy="248.15" r="0.65" fill="#333"/>
<text x="265.60" y="181.45" font-size="11.2" text-anchor="start" font-weight="bold" fill="#000" stroke="#000" stroke-width="0.55">G</text>
<text x="338.00" y="191.05" font-size="8.0" text-anchor="middle" font-weight="normal" fill="#000" stroke="#000" stroke-width="0.16" textLength="33.7" lengthAdjust="spacingAndGlyphs">Med αKEL</text>
<text x="0" y="0" font-size="20" text-anchor="middle" letter-spacing="1.2" fill="#111" stroke="#111" stroke-width="0.75" transform="translate(270.60,227.70) rotate(-90) scale(0.2348,0.2917)">Total C3 MFI</text>
<line x1="291.60" y1="195.95" x2="291.60" y2="261.10" stroke="#000" stroke-width="1.25"/>
<line x1="291.00" y1="260.50" x2="384.80" y2="260.50" stroke="#000" stroke-width="1.25"/>
<line x1="288.40" y1="260.50" x2="291.60" y2="260.50" stroke="#000" stroke-width="0.8"/>
<text x="285.70" y="262.40" font-size="5.2" text-anchor="end" font-weight="normal" fill="#2a2a2a" textLength="3.0" lengthAdjust="spacingAndGlyphs">0</text>
<line x1="288.40" y1="239.82" x2="291.60" y2="239.82" stroke="#000" stroke-width="0.8"/>
<text x="285.70" y="241.72" font-size="5.2" text-anchor="end" font-weight="normal" fill="#2a2a2a" textLength="6.0" lengthAdjust="spacingAndGlyphs">50</text>
<line x1="288.40" y1="219.13" x2="291.60" y2="219.13" stroke="#000" stroke-width="0.8"/>
<text x="285.70" y="221.03" font-size="5.2" text-anchor="end" font-weight="normal" fill="#2a2a2a" textLength="9.0" lengthAdjust="spacingAndGlyphs">100</text>
<line x1="288.40" y1="198.45" x2="291.60" y2="198.45" stroke="#000" stroke-width="0.8"/>
<text x="285.70" y="200.35" font-size="5.2" text-anchor="end" font-weight="normal" fill="#2a2a2a" textLength="9.0" lengthAdjust="spacingAndGlyphs">150</text>
<line x1="289.80" y1="258.43" x2="291.60" y2="258.43" stroke="#111" stroke-width="0.6"/>
<line x1="289.80" y1="256.36" x2="291.60" y2="256.36" stroke="#111" stroke-width="0.6"/>
<line x1="289.80" y1="254.29" x2="291.60" y2="254.29" stroke="#111" stroke-width="0.6"/>
<line x1="289.80" y1="252.23" x2="291.60" y2="252.23" stroke="#111" stroke-width="0.6"/>
<line x1="289.80" y1="250.16" x2="291.60" y2="250.16" stroke="#111" stroke-width="0.6"/>
<line x1="289.80" y1="248.09" x2="291.60" y2="248.09" stroke="#111" stroke-width="0.6"/>
<line x1="289.80" y1="246.02" x2="291.60" y2="246.02" stroke="#111" stroke-width="0.6"/>
<line x1="289.80" y1="243.95" x2="291.60" y2="243.95" stroke="#111" stroke-width="0.6"/>
<line x1="289.80" y1="241.88" x2="291.60" y2="241.88" stroke="#111" stroke-width="0.6"/>
<line x1="289.80" y1="237.75" x2="291.60" y2="237.75" stroke="#111" stroke-width="0.6"/>
<line x1="289.80" y1="235.68" x2="291.60" y2="235.68" stroke="#111" stroke-width="0.6"/>
<line x1="289.80" y1="233.61" x2="291.60" y2="233.61" stroke="#111" stroke-width="0.6"/>
<line x1="289.80" y1="231.54" x2="291.60" y2="231.54" stroke="#111" stroke-width="0.6"/>
<line x1="289.80" y1="229.47" x2="291.60" y2="229.47" stroke="#111" stroke-width="0.6"/>
<line x1="289.80" y1="227.41" x2="291.60" y2="227.41" stroke="#111" stroke-width="0.6"/>
<line x1="289.80" y1="225.34" x2="291.60" y2="225.34" stroke="#111" stroke-width="0.6"/>
<line x1="289.80" y1="223.27" x2="291.60" y2="223.27" stroke="#111" stroke-width="0.6"/>
<line x1="289.80" y1="221.20" x2="291.60" y2="221.20" stroke="#111" stroke-width="0.6"/>
<line x1="289.80" y1="217.06" x2="291.60" y2="217.06" stroke="#111" stroke-width="0.6"/>
<line x1="289.80" y1="215.00" x2="291.60" y2="215.00" stroke="#111" stroke-width="0.6"/>
<line x1="289.80" y1="212.93" x2="291.60" y2="212.93" stroke="#111" stroke-width="0.6"/>
<line x1="289.80" y1="210.86" x2="291.60" y2="210.86" stroke="#111" stroke-width="0.6"/>
<line x1="289.80" y1="208.79" x2="291.60" y2="208.79" stroke="#111" stroke-width="0.6"/>
<line x1="289.80" y1="206.72" x2="291.60" y2="206.72" stroke="#111" stroke-width="0.6"/>
<line x1="289.80" y1="204.65" x2="291.60" y2="204.65" stroke="#111" stroke-width="0.6"/>
<line x1="289.80" y1="202.59" x2="291.60" y2="202.59" stroke="#111" stroke-width="0.6"/>
<line x1="289.80" y1="200.52" x2="291.60" y2="200.52" stroke="#111" stroke-width="0.6"/>
<line x1="322.60" y1="198.75" x2="322.60" y2="274.45" stroke="#111" stroke-width="1.2" stroke-dasharray="1.25 1.67"/>
<line x1="353.50" y1="198.75" x2="353.50" y2="274.45" stroke="#111" stroke-width="1.2" stroke-dasharray="1.25 1.67"/>
<rect x="293.40" y="258.43" width="2.2" height="2.07" fill="#bcdca8" stroke="#8cc474" stroke-width="0.5"/>
<circle cx="293.75" cy="258.85" r="1.1" fill="#4fa834"/>
<circle cx="294.66" cy="258.02" r="1.1" fill="#4fa834"/>
<rect x="298.14" y="252.39" width="2.2" height="8.11" fill="#bcdca8" stroke="#8cc474" stroke-width="0.5"/>
<line x1="299.24" y1="249.33" x2="299.24" y2="253.88" stroke="#4fa834" stroke-width="0.6"/>
<circle cx="299.21" cy="253.88" r="1.1" fill="#4fa834"/>
<circle cx="298.81" cy="252.36" r="1.1" fill="#4fa834"/>
<circle cx="299.56" cy="250.85" r="1.1" fill="#4fa834"/>
<circle cx="299.24" cy="249.33" r="1.1" fill="#4fa834"/>
<rect x="302.88" y="251.81" width="2.2" height="8.69" fill="#bcdca8" stroke="#8cc474" stroke-width="0.5"/>
<line x1="303.98" y1="248.50" x2="303.98" y2="253.05" stroke="#4fa834" stroke-width="0.6"/>
<circle cx="304.16" cy="253.05" r="1.1" fill="#4fa834"/>
<circle cx="304.65" cy="251.54" r="1.1" fill="#4fa834"/>
<circle cx="303.59" cy="250.02" r="1.1" fill="#4fa834"/>
<circle cx="303.20" cy="248.50" r="1.1" fill="#4fa834"/>
<rect x="307.62" y="248.50" width="2.2" height="12.00" fill="#bcdca8" stroke="#8cc474" stroke-width="0.5"/>
<line x1="308.72" y1="245.19" x2="308.72" y2="249.74" stroke="#4fa834" stroke-width="0.6"/>
<circle cx="308.40" cy="249.74" r="1.1" fill="#4fa834"/>
<circle cx="309.01" cy="248.23" r="1.1" fill="#4fa834"/>
<circle cx="308.24" cy="246.71" r="1.1" fill="#4fa834"/>
<circle cx="308.19" cy="245.19" r="1.1" fill="#4fa834"/>
<circle cx="309.37" cy="241.47" r="1.1" fill="#4fa834"/>
<rect x="312.36" y="248.50" width="2.2" height="12.00" fill="#bcdca8" stroke="#8cc474" stroke-width="0.5"/>
<line x1="313.46" y1="242.71" x2="313.46" y2="251.81" stroke="#4fa834" stroke-width="0.6"/>
<circle cx="313.72" cy="251.81" r="1.1" fill="#4fa834"/>
<circle cx="313.37" cy="249.54" r="1.1" fill="#4fa834"/>
<circle cx="314.09" cy="247.26" r="1.1" fill="#4fa834"/>
<circle cx="313.18" cy="244.99" r="1.1" fill="#4fa834"/>
<circle cx="313.73" cy="242.71" r="1.1" fill="#4fa834"/>
<rect x="317.10" y="250.78" width="2.2" height="9.72" fill="#bcdca8" stroke="#8cc474" stroke-width="0.5"/>
<line x1="318.20" y1="246.85" x2="318.20" y2="252.64" stroke="#4fa834" stroke-width="0.6"/>
<circle cx="317.72" cy="252.64" r="1.1" fill="#4fa834"/>
<circle cx="318.09" cy="250.71" r="1.1" fill="#4fa834"/>
<circle cx="318.69" cy="248.78" r="1.1" fill="#4fa834"/>
<circle cx="318.86" cy="246.85" r="1.1" fill="#4fa834"/>
<rect x="324.99" y="256.36" width="2.2" height="4.14" fill="#a9b2d6" stroke="#7c88bc" stroke-width="0.5"/>
<circle cx="326.70" cy="257.60" r="1.1" fill="#27468a"/>
<circle cx="325.91" cy="256.36" r="1.1" fill="#27468a"/>
<circle cx="326.22" cy="255.12" r="1.1" fill="#27468a"/>
<rect x="329.73" y="250.99" width="2.2" height="9.51" fill="#a9b2d6" stroke="#7c88bc" stroke-width="0.5"/>
<line x1="330.83" y1="249.74" x2="330.83" y2="256.36" stroke="#27468a" stroke-width="0.6"/>
<circle cx="330.54" cy="256.36" r="1.1" fill="#27468a"/>
<circle cx="330.25" cy="254.16" r="1.1" fill="#27468a"/>
<circle cx="330.82" cy="251.95" r="1.1" fill="#27468a"/>
<circle cx="331.37" cy="249.74" r="1.1" fill="#27468a"/>
<rect x="334.47" y="246.44" width="2.2" height="14.06" fill="#a9b2d6" stroke="#7c88bc" stroke-width="0.5"/>
<line x1="335.57" y1="243.13" x2="335.57" y2="249.33" stroke="#27468a" stroke-width="0.6"/>
<circle cx="336.13" cy="249.33" r="1.1" fill="#27468a"/>
<circle cx="335.91" cy="247.26" r="1.1" fill="#27468a"/>
<circle cx="336.29" cy="245.19" r="1.1" fill="#27468a"/>
<circle cx="335.21" cy="243.13" r="1.1" fill="#27468a"/>
<circle cx="335.04" cy="241.06" r="1.1" fill="#27468a"/>
<rect x="339.21" y="236.92" width="2.2" height="23.58" fill="#a9b2d6" stroke="#7c88bc" stroke-width="0.5"/>
<line x1="340.31" y1="232.78" x2="340.31" y2="243.54" stroke="#27468a" stroke-width="0.6"/>
<circle cx="340.23" cy="243.54" r="1.1" fill="#27468a"/>
<circle cx="339.95" cy="240.85" r="1.1" fill="#27468a"/>
<circle cx="339.85" cy="238.16" r="1.1" fill="#27468a"/>
<circle cx="340.17" cy="235.47" r="1.1" fill="#27468a"/>
<circle cx="340.51" cy="232.78" r="1.1" fill="#27468a"/>
<circle cx="340.30" cy="220.79" r="1.1" fill="#27468a"/>
<rect x="343.95" y="234.03" width="2.2" height="26.47" fill="#a9b2d6" stroke="#7c88bc" stroke-width="0.5"/>
<line x1="345.05" y1="228.65" x2="345.05" y2="241.06" stroke="#27468a" stroke-width="0.6"/>
<circle cx="344.75" cy="241.06" r="1.1" fill="#27468a"/>
<circle cx="345.59" cy="237.96" r="1.1" fill="#27468a"/>
<circle cx="345.82" cy="234.85" r="1.1" fill="#27468a"/>
<circle cx="344.97" cy="231.75" r="1.1" fill="#27468a"/>
<circle cx="344.37" cy="228.65" r="1.1" fill="#27468a"/>
<circle cx="344.30" cy="209.62" r="1.1" fill="#27468a"/>
<rect x="348.69" y="236.92" width="2.2" height="23.58" fill="#a9b2d6" stroke="#7c88bc" stroke-width="0.5"/>
<line x1="349.79" y1="234.85" x2="349.79" y2="241.06" stroke="#27468a" stroke-width="0.6"/>
<circle cx="350.39" cy="241.06" r="1.1" fill="#27468a"/>
<circle cx="349.06" cy="238.99" r="1.1" fill="#27468a"/>
<circle cx="350.12" cy="236.92" r="1.1" fill="#27468a"/>
<circle cx="349.90" cy="234.85" r="1.1" fill="#27468a"/>
<rect x="356.58" y="251.40" width="2.2" height="9.10" fill="#e4a89e" stroke="#d28a7e" stroke-width="0.5"/>
<line x1="357.68" y1="248.92" x2="357.68" y2="254.29" stroke="#b3133b" stroke-width="0.6"/>
<circle cx="357.37" cy="254.29" r="1.1" fill="#b3133b"/>
<circle cx="358.15" cy="252.50" r="1.1" fill="#b3133b"/>
<circle cx="356.91" cy="250.71" r="1.1" fill="#b3133b"/>
<circle cx="357.10" cy="248.92" r="1.1" fill="#b3133b"/>
<rect x="361.32" y="249.54" width="2.2" height="10.96" fill="#e4a89e" stroke="#d28a7e" stroke-width="0.5"/>
<line x1="362.42" y1="248.09" x2="362.42" y2="251.40" stroke="#b3133b" stroke-width="0.6"/>
<circle cx="362.35" cy="251.40" r="1.1" fill="#b3133b"/>
<circle cx="361.66" cy="250.30" r="1.1" fill="#b3133b"/>
<circle cx="362.95" cy="249.19" r="1.1" fill="#b3133b"/>
<circle cx="362.00" cy="248.09" r="1.1" fill="#b3133b"/>
<rect x="366.06" y="249.54" width="2.2" height="10.96" fill="#e4a89e" stroke="#d28a7e" stroke-width="0.5"/>
<line x1="367.16" y1="245.61" x2="367.16" y2="251.40" stroke="#b3133b" stroke-width="0.6"/>
<circle cx="366.59" cy="251.40" r="1.1" fill="#b3133b"/>
<circle cx="366.44" cy="249.47" r="1.1" fill="#b3133b"/>
<circle cx="367.37" cy="247.54" r="1.1" fill="#b3133b"/>
<circle cx="367.07" cy="245.61" r="1.1" fill="#b3133b"/>
<circle cx="367.37" cy="243.13" r="1.1" fill="#b3133b"/>
<rect x="370.80" y="244.78" width="2.2" height="15.72" fill="#e4a89e" stroke="#d28a7e" stroke-width="0.5"/>
<line x1="371.90" y1="239.40" x2="371.90" y2="248.92" stroke="#b3133b" stroke-width="0.6"/>
<circle cx="372.15" cy="248.92" r="1.1" fill="#b3133b"/>
<circle cx="372.39" cy="246.54" r="1.1" fill="#b3133b"/>
<circle cx="372.63" cy="244.16" r="1.1" fill="#b3133b"/>
<circle cx="372.20" cy="241.78" r="1.1" fill="#b3133b"/>
<circle cx="371.42" cy="239.40" r="1.1" fill="#b3133b"/>
<circle cx="371.86" cy="233.61" r="1.1" fill="#b3133b"/>
<rect x="375.54" y="242.30" width="2.2" height="18.20" fill="#e4a89e" stroke="#d28a7e" stroke-width="0.5"/>
<line x1="376.64" y1="238.99" x2="376.64" y2="247.26" stroke="#b3133b" stroke-width="0.6"/>
<circle cx="376.13" cy="247.26" r="1.1" fill="#b3133b"/>
<circle cx="375.86" cy="245.19" r="1.1" fill="#b3133b"/>
<circle cx="376.60" cy="243.13" r="1.1" fill="#b3133b"/>
<circle cx="376.98" cy="241.06" r="1.1" fill="#b3133b"/>
<circle cx="376.13" cy="238.99" r="1.1" fill="#b3133b"/>
<circle cx="376.28" cy="229.06" r="1.1" fill="#b3133b"/>
<rect x="380.28" y="235.06" width="2.2" height="25.44" fill="#e4a89e" stroke="#d28a7e" stroke-width="0.5"/>
<line x1="381.38" y1="234.44" x2="381.38" y2="241.47" stroke="#b3133b" stroke-width="0.6"/>
<circle cx="381.13" cy="241.47" r="1.1" fill="#b3133b"/>
<circle cx="381.70" cy="239.71" r="1.1" fill="#b3133b"/>
<circle cx="381.41" cy="237.96" r="1.1" fill="#b3133b"/>
<circle cx="381.56" cy="236.20" r="1.1" fill="#b3133b"/>
<circle cx="381.79" cy="234.44" r="1.1" fill="#b3133b"/>
<circle cx="381.21" cy="223.27" r="1.1" fill="#b3133b"/>
<path d="M301.30,280.75V286.25M303.60,280.75L301.55,283.94M302.30,282.95L303.70,286.25M304.75,280.75V286.25M304.75,281.17H306.85M304.75,283.50H306.65M304.75,285.83H306.90M307.85,280.75V286.25M307.85,285.83H310.15" fill="none" stroke="#111" stroke-width="1.0"/>
<text x="310.55" y="282.85" font-size="4.6" text-anchor="start" font-weight="normal" fill="#111" stroke="#111" stroke-width="0.2" textLength="2.8" lengthAdjust="spacingAndGlyphs">lo</text>
<text x="0" y="0" font-size="4.9" fill="#505050" stroke="#505050" stroke-width="0.16" textLength="9.6" lengthAdjust="spacingAndGlyphs" transform="translate(292.90,264.10) rotate(90)">10m</text>
<text x="0" y="0" font-size="4.9" fill="#505050" stroke="#505050" stroke-width="0.16" textLength="5.2" lengthAdjust="spacingAndGlyphs" transform="translate(297.64,264.10) rotate(90)">1h</text>
<text x="0" y="0" font-size="4.9" fill="#505050" stroke="#505050" stroke-width="0.16" textLength="5.2" lengthAdjust="spacingAndGlyphs" transform="translate(302.38,264.10) rotate(90)">2h</text>
<text x="0" y="0" font-size="4.9" fill="#505050" stroke="#505050" stroke-width="0.16" textLength="5.2" lengthAdjust="spacingAndGlyphs" transform="translate(307.12,264.10) rotate(90)">4h</text>
<text x="0" y="0" font-size="4.9" fill="#505050" stroke="#505050" stroke-width="0.16" textLength="5.2" lengthAdjust="spacingAndGlyphs" transform="translate(311.86,264.10) rotate(90)">6h</text>
<text x="0" y="0" font-size="4.9" fill="#505050" stroke="#505050" stroke-width="0.16" textLength="8.4" lengthAdjust="spacingAndGlyphs" transform="translate(316.60,264.10) rotate(90)">24h</text>
<path d="M330.50,280.75V286.25M332.80,280.75L330.75,283.94M331.50,282.95L332.90,286.25M333.95,280.75V286.25M333.95,281.17H336.05M333.95,283.50H335.85M333.95,285.83H336.10M337.05,280.75V286.25M337.05,285.83H339.35" fill="none" stroke="#111" stroke-width="1.0"/>
<text x="339.75" y="282.85" font-size="4.6" text-anchor="start" font-weight="normal" fill="#111" stroke="#111" stroke-width="0.2" textLength="6.3" lengthAdjust="spacingAndGlyphs">med</text>
<text x="0" y="0" font-size="4.9" fill="#505050" stroke="#505050" stroke-width="0.16" textLength="9.6" lengthAdjust="spacingAndGlyphs" transform="translate(324.49,264.10) rotate(90)">10m</text>
<text x="0" y="0" font-size="4.9" fill="#505050" stroke="#505050" stroke-width="0.16" textLength="5.2" lengthAdjust="spacingAndGlyphs" transform="translate(329.23,264.10) rotate(90)">1h</text>
<text x="0" y="0" font-size="4.9" fill="#505050" stroke="#505050" stroke-width="0.16" textLength="5.2" lengthAdjust="spacingAndGlyphs" transform="translate(333.97,264.10) rotate(90)">2h</text>
<text x="0" y="0" font-size="4.9" fill="#505050" stroke="#505050" stroke-width="0.16" textLength="5.2" lengthAdjust="spacingAndGlyphs" transform="translate(338.71,264.10) rotate(90)">4h</text>
<text x="0" y="0" font-size="4.9" fill="#505050" stroke="#505050" stroke-width="0.16" textLength="5.2" lengthAdjust="spacingAndGlyphs" transform="translate(343.45,264.10) rotate(90)">6h</text>
<text x="0" y="0" font-size="4.9" fill="#505050" stroke="#505050" stroke-width="0.16" textLength="8.4" lengthAdjust="spacingAndGlyphs" transform="translate(348.19,264.10) rotate(90)">24h</text>
<path d="M363.45,280.75V286.25M365.75,280.75L363.70,283.94M364.45,282.95L365.85,286.25M366.90,280.75V286.25M366.90,281.17H369.00M366.90,283.50H368.80M366.90,285.83H369.05M370.00,280.75V286.25M370.00,285.83H372.30" fill="none" stroke="#111" stroke-width="1.0"/>
<text x="372.70" y="282.85" font-size="4.6" text-anchor="start" font-weight="normal" fill="#111" stroke="#111" stroke-width="0.2" textLength="2.6" lengthAdjust="spacingAndGlyphs">hi</text>
<text x="0" y="0" font-size="4.9" fill="#505050" stroke="#505050" stroke-width="0.16" textLength="9.6" lengthAdjust="spacingAndGlyphs" transform="translate(356.08,264.10) rotate(90)">10m</text>
<text x="0" y="0" font-size="4.9" fill="#505050" stroke="#505050" stroke-width="0.16" textLength="5.2" lengthAdjust="spacingAndGlyphs" transform="translate(360.82,264.10) rotate(90)">1h</text>
<text x="0" y="0" font-size="4.9" fill="#505050" stroke="#505050" stroke-width="0.16" textLength="5.2" lengthAdjust="spacingAndGlyphs" transform="translate(365.56,264.10) rotate(90)">2h</text>
<text x="0" y="0" font-size="4.9" fill="#505050" stroke="#505050" stroke-width="0.16" textLength="5.2" lengthAdjust="spacingAndGlyphs" transform="translate(370.30,264.10) rotate(90)">4h</text>
<text x="0" y="0" font-size="4.9" fill="#505050" stroke="#505050" stroke-width="0.16" textLength="5.2" lengthAdjust="spacingAndGlyphs" transform="translate(375.04,264.10) rotate(90)">6h</text>
<text x="0" y="0" font-size="4.9" fill="#505050" stroke="#505050" stroke-width="0.16" textLength="8.4" lengthAdjust="spacingAndGlyphs" transform="translate(379.78,264.10) rotate(90)">24h</text>
<line x1="297.00" y1="237.95" x2="321.00" y2="237.95" stroke="#222" stroke-width="1.1"/>
<circle cx="309.00" cy="235.95" r="0.65" fill="#333"/>
<line x1="333.50" y1="203.85" x2="351.00" y2="203.85" stroke="#222" stroke-width="1.1"/>
<circle cx="342.25" cy="201.85" r="0.65" fill="#333"/>
<line x1="370.00" y1="217.85" x2="383.70" y2="217.85" stroke="#222" stroke-width="1.1"/>
<circle cx="376.85" cy="215.85" r="0.65" fill="#333"/>
<text x="394.00" y="181.45" font-size="11.2" text-anchor="start" font-weight="bold" fill="#000" stroke="#000" stroke-width="0.55">H</text>
<text x="466.40" y="191.05" font-size="8.0" text-anchor="middle" font-weight="normal" fill="#000" stroke="#000" stroke-width="0.16" textLength="26.7" lengthAdjust="spacingAndGlyphs">Hi αKEL</text>
<text x="0" y="0" font-size="20" text-anchor="middle" letter-spacing="1.2" fill="#111" stroke="#111" stroke-width="0.75" transform="translate(399.00,227.70) rotate(-90) scale(0.2348,0.2917)">Total C3 MFI</text>
<line x1="420.00" y1="195.95" x2="420.00" y2="261.10" stroke="#000" stroke-width="1.25"/>
<line x1="419.40" y1="260.50" x2="513.20" y2="260.50" stroke="#000" stroke-width="1.25"/>
<line x1="416.80" y1="260.50" x2="420.00" y2="260.50" stroke="#000" stroke-width="0.8"/>
<text x="414.10" y="262.40" font-size="5.2" text-anchor="end" font-weight="normal" fill="#2a2a2a" textLength="3.0" lengthAdjust="spacingAndGlyphs">0</text>
<line x1="416.80" y1="239.82" x2="420.00" y2="239.82" stroke="#000" stroke-width="0.8"/>
<text x="414.10" y="241.72" font-size="5.2" text-anchor="end" font-weight="normal" fill="#2a2a2a" textLength="6.0" lengthAdjust="spacingAndGlyphs">50</text>
<line x1="416.80" y1="219.13" x2="420.00" y2="219.13" stroke="#000" stroke-width="0.8"/>
<text x="414.10" y="221.03" font-size="5.2" text-anchor="end" font-weight="normal" fill="#2a2a2a" textLength="9.0" lengthAdjust="spacingAndGlyphs">100</text>
<line x1="416.80" y1="198.45" x2="420.00" y2="198.45" stroke="#000" stroke-width="0.8"/>
<text x="414.10" y="200.35" font-size="5.2" text-anchor="end" font-weight="normal" fill="#2a2a2a" textLength="9.0" lengthAdjust="spacingAndGlyphs">150</text>
<line x1="418.20" y1="258.43" x2="420.00" y2="258.43" stroke="#111" stroke-width="0.6"/>
<line x1="418.20" y1="256.36" x2="420.00" y2="256.36" stroke="#111" stroke-width="0.6"/>
<line x1="418.20" y1="254.29" x2="420.00" y2="254.29" stroke="#111" stroke-width="0.6"/>
<line x1="418.20" y1="252.23" x2="420.00" y2="252.23" stroke="#111" stroke-width="0.6"/>
<line x1="418.20" y1="250.16" x2="420.00" y2="250.16" stroke="#111" stroke-width="0.6"/>
<line x1="418.20" y1="248.09" x2="420.00" y2="248.09" stroke="#111" stroke-width="0.6"/>
<line x1="418.20" y1="246.02" x2="420.00" y2="246.02" stroke="#111" stroke-width="0.6"/>
<line x1="418.20" y1="243.95" x2="420.00" y2="243.95" stroke="#111" stroke-width="0.6"/>
<line x1="418.20" y1="241.88" x2="420.00" y2="241.88" stroke="#111" stroke-width="0.6"/>
<line x1="418.20" y1="237.75" x2="420.00" y2="237.75" stroke="#111" stroke-width="0.6"/>
<line x1="418.20" y1="235.68" x2="420.00" y2="235.68" stroke="#111" stroke-width="0.6"/>
<line x1="418.20" y1="233.61" x2="420.00" y2="233.61" stroke="#111" stroke-width="0.6"/>
<line x1="418.20" y1="231.54" x2="420.00" y2="231.54" stroke="#111" stroke-width="0.6"/>
<line x1="418.20" y1="229.47" x2="420.00" y2="229.47" stroke="#111" stroke-width="0.6"/>
<line x1="418.20" y1="227.41" x2="420.00" y2="227.41" stroke="#111" stroke-width="0.6"/>
<line x1="418.20" y1="225.34" x2="420.00" y2="225.34" stroke="#111" stroke-width="0.6"/>
<line x1="418.20" y1="223.27" x2="420.00" y2="223.27" stroke="#111" stroke-width="0.6"/>
<line x1="418.20" y1="221.20" x2="420.00" y2="221.20" stroke="#111" stroke-width="0.6"/>
<line x1="418.20" y1="217.06" x2="420.00" y2="217.06" stroke="#111" stroke-width="0.6"/>
<line x1="418.20" y1="215.00" x2="420.00" y2="215.00" stroke="#111" stroke-width="0.6"/>
<line x1="418.20" y1="212.93" x2="420.00" y2="212.93" stroke="#111" stroke-width="0.6"/>
<line x1="418.20" y1="210.86" x2="420.00" y2="210.86" stroke="#111" stroke-width="0.6"/>
<line x1="418.20" y1="208.79" x2="420.00" y2="208.79" stroke="#111" stroke-width="0.6"/>
<line x1="418.20" y1="206.72" x2="420.00" y2="206.72" stroke="#111" stroke-width="0.6"/>
<line x1="418.20" y1="204.65" x2="420.00" y2="204.65" stroke="#111" stroke-width="0.6"/>
<line x1="418.20" y1="202.59" x2="420.00" y2="202.59" stroke="#111" stroke-width="0.6"/>
<line x1="418.20" y1="200.52" x2="420.00" y2="200.52" stroke="#111" stroke-width="0.6"/>
<line x1="451.00" y1="198.75" x2="451.00" y2="274.45" stroke="#111" stroke-width="1.2" stroke-dasharray="1.25 1.67"/>
<line x1="481.90" y1="198.75" x2="481.90" y2="274.45" stroke="#111" stroke-width="1.2" stroke-dasharray="1.25 1.67"/>
<rect x="421.80" y="252.64" width="2.2" height="7.86" fill="#bcdca8" stroke="#8cc474" stroke-width="0.5"/>
<line x1="422.90" y1="250.57" x2="422.90" y2="255.95" stroke="#4fa834" stroke-width="0.6"/>
<circle cx="423.37" cy="255.95" r="1.1" fill="#4fa834"/>
<circle cx="423.55" cy="254.16" r="1.1" fill="#4fa834"/>
<circle cx="422.24" cy="252.36" r="1.1" fill="#4fa834"/>
<circle cx="423.59" cy="250.57" r="1.1" fill="#4fa834"/>
<rect x="426.54" y="249.33" width="2.2" height="11.17" fill="#bcdca8" stroke="#8cc474" stroke-width="0.5"/>
<line x1="427.64" y1="246.85" x2="427.64" y2="253.88" stroke="#4fa834" stroke-width="0.6"/>
<circle cx="428.00" cy="253.88" r="1.1" fill="#4fa834"/>
<circle cx="427.05" cy="251.54" r="1.1" fill="#4fa834"/>
<circle cx="427.57" cy="249.19" r="1.1" fill="#4fa834"/>
<circle cx="427.84" cy="246.85" r="1.1" fill="#4fa834"/>
<rect x="431.28" y="248.92" width="2.2" height="11.58" fill="#bcdca8" stroke="#8cc474" stroke-width="0.5"/>
<line x1="432.38" y1="246.44" x2="432.38" y2="252.64" stroke="#4fa834" stroke-width="0.6"/>
<circle cx="433.04" cy="252.64" r="1.1" fill="#4fa834"/>
<circle cx="432.18" cy="250.57" r="1.1" fill="#4fa834"/>
<circle cx="432.49" cy="248.50" r="1.1" fill="#4fa834"/>
<circle cx="432.99" cy="246.44" r="1.1" fill="#4fa834"/>
<rect x="436.02" y="247.68" width="2.2" height="12.82" fill="#bcdca8" stroke="#8cc474" stroke-width="0.5"/>
<line x1="437.12" y1="244.37" x2="437.12" y2="251.81" stroke="#4fa834" stroke-width="0.6"/>
<circle cx="437.59" cy="251.81" r="1.1" fill="#4fa834"/>
<circle cx="437.83" cy="249.33" r="1.1" fill="#4fa834"/>
<circle cx="437.06" cy="246.85" r="1.1" fill="#4fa834"/>
<circle cx="437.36" cy="244.37" r="1.1" fill="#4fa834"/>
<rect x="440.76" y="250.57" width="2.2" height="9.93" fill="#bcdca8" stroke="#8cc474" stroke-width="0.5"/>
<line x1="441.86" y1="247.68" x2="441.86" y2="253.88" stroke="#4fa834" stroke-width="0.6"/>
<circle cx="441.39" cy="253.88" r="1.1" fill="#4fa834"/>
<circle cx="442.22" cy="251.81" r="1.1" fill="#4fa834"/>
<circle cx="442.37" cy="249.74" r="1.1" fill="#4fa834"/>
<circle cx="442.09" cy="247.68" r="1.1" fill="#4fa834"/>
<rect x="445.50" y="253.88" width="2.2" height="6.62" fill="#bcdca8" stroke="#8cc474" stroke-width="0.5"/>
<line x1="446.60" y1="251.81" x2="446.60" y2="255.95" stroke="#4fa834" stroke-width="0.6"/>
<circle cx="446.95" cy="255.95" r="1.1" fill="#4fa834"/>
<circle cx="446.14" cy="254.57" r="1.1" fill="#4fa834"/>
<circle cx="447.24" cy="253.19" r="1.1" fill="#4fa834"/>
<circle cx="447.37" cy="251.81" r="1.1" fill="#4fa834"/>
<rect x="453.39" y="234.44" width="2.2" height="26.06" fill="#a9b2d6" stroke="#7c88bc" stroke-width="0.5"/>
<line x1="454.49" y1="234.44" x2="454.49" y2="246.02" stroke="#27468a" stroke-width="0.6"/>
<circle cx="455.25" cy="246.02" r="1.1" fill="#27468a"/>
<circle cx="454.55" cy="242.16" r="1.1" fill="#27468a"/>
<circle cx="454.96" cy="238.30" r="1.1" fill="#27468a"/>
<circle cx="454.20" cy="234.44" r="1.1" fill="#27468a"/>
<circle cx="455.15" cy="228.23" r="1.1" fill="#27468a"/>
<rect x="458.13" y="224.51" width="2.2" height="35.99" fill="#a9b2d6" stroke="#7c88bc" stroke-width="0.5"/>
<line x1="459.23" y1="225.75" x2="459.23" y2="232.37" stroke="#27468a" stroke-width="0.6"/>
<circle cx="459.80" cy="232.37" r="1.1" fill="#27468a"/>
<circle cx="458.99" cy="230.16" r="1.1" fill="#27468a"/>
<circle cx="458.56" cy="227.96" r="1.1" fill="#27468a"/>
<circle cx="459.14" cy="225.75" r="1.1" fill="#27468a"/>
<circle cx="459.31" cy="223.68" r="1.1" fill="#27468a"/>
<rect x="462.87" y="227.41" width="2.2" height="33.09" fill="#a9b2d6" stroke="#7c88bc" stroke-width="0.5"/>
<line x1="463.97" y1="224.51" x2="463.97" y2="235.27" stroke="#27468a" stroke-width="0.6"/>
<circle cx="464.40" cy="235.27" r="1.1" fill="#27468a"/>
<circle cx="463.95" cy="232.58" r="1.1" fill="#27468a"/>
<circle cx="463.22" cy="229.89" r="1.1" fill="#27468a"/>
<circle cx="464.46" cy="227.20" r="1.1" fill="#27468a"/>
<circle cx="463.27" cy="224.51" r="1.1" fill="#27468a"/>
<rect x="467.61" y="226.58" width="2.2" height="33.92" fill="#a9b2d6" stroke="#7c88bc" stroke-width="0.5"/>
<line x1="468.71" y1="222.44" x2="468.71" y2="234.44" stroke="#27468a" stroke-width="0.6"/>
<circle cx="469.19" cy="234.44" r="1.1" fill="#27468a"/>
<circle cx="468.19" cy="231.44" r="1.1" fill="#27468a"/>
<circle cx="468.45" cy="228.44" r="1.1" fill="#27468a"/>
<circle cx="469.17" cy="225.44" r="1.1" fill="#27468a"/>
<circle cx="468.13" cy="222.44" r="1.1" fill="#27468a"/>
<rect x="472.35" y="230.51" width="2.2" height="29.99" fill="#a9b2d6" stroke="#7c88bc" stroke-width="0.5"/>
<line x1="473.45" y1="225.75" x2="473.45" y2="238.58" stroke="#27468a" stroke-width="0.6"/>
<circle cx="472.89" cy="238.58" r="1.1" fill="#27468a"/>
<circle cx="473.48" cy="235.37" r="1.1" fill="#27468a"/>
<circle cx="473.81" cy="232.16" r="1.1" fill="#27468a"/>
<circle cx="473.99" cy="228.96" r="1.1" fill="#27468a"/>
<circle cx="473.75" cy="225.75" r="1.1" fill="#27468a"/>
<rect x="477.09" y="243.13" width="2.2" height="17.37" fill="#a9b2d6" stroke="#7c88bc" stroke-width="0.5"/>
<line x1="478.19" y1="239.40" x2="478.19" y2="247.26" stroke="#27468a" stroke-width="0.6"/>
<circle cx="478.90" cy="247.26" r="1.1" fill="#27468a"/>
<circle cx="478.18" cy="244.64" r="1.1" fill="#27468a"/>
<circle cx="478.91" cy="242.02" r="1.1" fill="#27468a"/>
<circle cx="477.53" cy="239.40" r="1.1" fill="#27468a"/>
<rect x="484.98" y="221.62" width="2.2" height="38.88" fill="#e4a89e" stroke="#d28a7e" stroke-width="0.5"/>
<line x1="486.08" y1="218.72" x2="486.08" y2="227.41" stroke="#b3133b" stroke-width="0.6"/>
<circle cx="485.63" cy="227.41" r="1.1" fill="#b3133b"/>
<circle cx="486.12" cy="224.51" r="1.1" fill="#b3133b"/>
<circle cx="485.74" cy="221.62" r="1.1" fill="#b3133b"/>
<circle cx="486.45" cy="218.72" r="1.1" fill="#b3133b"/>
<circle cx="486.30" cy="213.76" r="1.1" fill="#b3133b"/>
<rect x="489.72" y="224.51" width="2.2" height="35.99" fill="#e4a89e" stroke="#d28a7e" stroke-width="0.5"/>
<line x1="490.82" y1="221.62" x2="490.82" y2="231.54" stroke="#b3133b" stroke-width="0.6"/>
<circle cx="490.86" cy="231.54" r="1.1" fill="#b3133b"/>
<circle cx="491.37" cy="229.06" r="1.1" fill="#b3133b"/>
<circle cx="490.92" cy="226.58" r="1.1" fill="#b3133b"/>
<circle cx="490.52" cy="224.10" r="1.1" fill="#b3133b"/>
<circle cx="490.63" cy="221.62" r="1.1" fill="#b3133b"/>
<rect x="494.46" y="229.47" width="2.2" height="31.03" fill="#e4a89e" stroke="#d28a7e" stroke-width="0.5"/>
<line x1="495.56" y1="223.68" x2="495.56" y2="236.51" stroke="#b3133b" stroke-width="0.6"/>
<circle cx="496.11" cy="236.51" r="1.1" fill="#b3133b"/>
<circle cx="496.20" cy="233.30" r="1.1" fill="#b3133b"/>
<circle cx="495.09" cy="230.10" r="1.1" fill="#b3133b"/>
<circle cx="496.12" cy="226.89" r="1.1" fill="#b3133b"/>
<circle cx="496.31" cy="223.68" r="1.1" fill="#b3133b"/>
<rect x="499.20" y="228.65" width="2.2" height="31.85" fill="#e4a89e" stroke="#d28a7e" stroke-width="0.5"/>
<line x1="500.30" y1="225.75" x2="500.30" y2="235.27" stroke="#b3133b" stroke-width="0.6"/>
<circle cx="500.34" cy="235.27" r="1.1" fill="#b3133b"/>
<circle cx="500.42" cy="232.89" r="1.1" fill="#b3133b"/>
<circle cx="499.82" cy="230.51" r="1.1" fill="#b3133b"/>
<circle cx="500.36" cy="228.13" r="1.1" fill="#b3133b"/>
<circle cx="500.31" cy="225.75" r="1.1" fill="#b3133b"/>
<rect x="503.94" y="228.65" width="2.2" height="31.85" fill="#e4a89e" stroke="#d28a7e" stroke-width="0.5"/>
<line x1="505.04" y1="225.75" x2="505.04" y2="239.40" stroke="#b3133b" stroke-width="0.6"/>
<circle cx="505.21" cy="239.40" r="1.1" fill="#b3133b"/>
<circle cx="504.28" cy="235.99" r="1.1" fill="#b3133b"/>
<circle cx="505.79" cy="232.58" r="1.1" fill="#b3133b"/>
<circle cx="505.07" cy="229.16" r="1.1" fill="#b3133b"/>
<circle cx="504.88" cy="225.75" r="1.1" fill="#b3133b"/>
<rect x="508.68" y="240.23" width="2.2" height="20.27" fill="#e4a89e" stroke="#d28a7e" stroke-width="0.5"/>
<line x1="509.78" y1="238.16" x2="509.78" y2="243.95" stroke="#b3133b" stroke-width="0.6"/>
<circle cx="510.26" cy="243.95" r="1.1" fill="#b3133b"/>
<circle cx="509.88" cy="242.02" r="1.1" fill="#b3133b"/>
<circle cx="509.77" cy="240.09" r="1.1" fill="#b3133b"/>
<circle cx="510.09" cy="238.16" r="1.1" fill="#b3133b"/>
<path d="M429.70,280.75V286.25M432.00,280.75L429.95,283.94M430.70,282.95L432.10,286.25M433.15,280.75V286.25M433.15,281.17H435.25M433.15,283.50H435.05M433.15,285.83H435.30M436.25,280.75V286.25M436.25,285.83H438.55" fill="none" stroke="#111" stroke-width="1.0"/>
<text x="438.95" y="282.85" font-size="4.6" text-anchor="start" font-weight="normal" fill="#111" stroke="#111" stroke-width="0.2" textLength="2.8" lengthAdjust="spacingAndGlyphs">lo</text>
<text x="0" y="0" font-size="4.9" fill="#505050" stroke="#505050" stroke-width="0.16" textLength="9.6" lengthAdjust="spacingAndGlyphs" transform="translate(421.30,264.10) rotate(90)">10m</text>
<text x="0" y="0" font-size="4.9" fill="#505050" stroke="#505050" stroke-width="0.16" textLength="5.2" lengthAdjust="spacingAndGlyphs" transform="translate(426.04,264.10) rotate(90)">1h</text>
<text x="0" y="0" font-size="4.9" fill="#505050" stroke="#505050" stroke-width="0.16" textLength="5.2" lengthAdjust="spacingAndGlyphs" transform="translate(430.78,264.10) rotate(90)">2h</text>
<text x="0" y="0" font-size="4.9" fill="#505050" stroke="#505050" stroke-width="0.16" textLength="5.2" lengthAdjust="spacingAndGlyphs" transform="translate(435.52,264.10) rotate(90)">4h</text>
<text x="0" y="0" font-size="4.9" fill="#505050" stroke="#505050" stroke-width="0.16" textLength="5.2" lengthAdjust="spacingAndGlyphs" transform="translate(440.26,264.10) rotate(90)">6h</text>
<text x="0" y="0" font-size="4.9" fill="#505050" stroke="#505050" stroke-width="0.16" textLength="8.4" lengthAdjust="spacingAndGlyphs" transform="translate(445.00,264.10) rotate(90)">24h</text>
<path d="M458.90,280.75V286.25M461.20,280.75L459.15,283.94M459.90,282.95L461.30,286.25M462.35,280.75V286.25M462.35,281.17H464.45M462.35,283.50H464.25M462.35,285.83H464.50M465.45,280.75V286.25M465.45,285.83H467.75" fill="none" stroke="#111" stroke-width="1.0"/>
<text x="468.15" y="282.85" font-size="4.6" text-anchor="start" font-weight="normal" fill="#111" stroke="#111" stroke-width="0.2" textLength="6.3" lengthAdjust="spacingAndGlyphs">med</text>
<text x="0" y="0" font-size="4.9" fill="#505050" stroke="#505050" stroke-width="0.16" textLength="9.6" lengthAdjust="spacingAndGlyphs" transform="translate(452.89,264.10) rotate(90)">10m</text>
<text x="0" y="0" font-size="4.9" fill="#505050" stroke="#505050" stroke-width="0.16" textLength="5.2" lengthAdjust="spacingAndGlyphs" transform="translate(457.63,264.10) rotate(90)">1h</text>
<text x="0" y="0" font-size="4.9" fill="#505050" stroke="#505050" stroke-width="0.16" textLength="5.2" lengthAdjust="spacingAndGlyphs" transform="translate(462.37,264.10) rotate(90)">2h</text>
<text x="0" y="0" font-size="4.9" fill="#505050" stroke="#505050" stroke-width="0.16" textLength="5.2" lengthAdjust="spacingAndGlyphs" transform="translate(467.11,264.10) rotate(90)">4h</text>
<text x="0" y="0" font-size="4.9" fill="#505050" stroke="#505050" stroke-width="0.16" textLength="5.2" lengthAdjust="spacingAndGlyphs" transform="translate(471.85,264.10) rotate(90)">6h</text>
<text x="0" y="0" font-size="4.9" fill="#505050" stroke="#505050" stroke-width="0.16" textLength="8.4" lengthAdjust="spacingAndGlyphs" transform="translate(476.59,264.10) rotate(90)">24h</text>
<path d="M491.85,280.75V286.25M494.15,280.75L492.10,283.94M492.85,282.95L494.25,286.25M495.30,280.75V286.25M495.30,281.17H497.40M495.30,283.50H497.20M495.30,285.83H497.45M498.40,280.75V286.25M498.40,285.83H500.70" fill="none" stroke="#111" stroke-width="1.0"/>
<text x="501.10" y="282.85" font-size="4.6" text-anchor="start" font-weight="normal" fill="#111" stroke="#111" stroke-width="0.2" textLength="2.6" lengthAdjust="spacingAndGlyphs">hi</text>
<text x="0" y="0" font-size="4.9" fill="#505050" stroke="#505050" stroke-width="0.16" textLength="9.6" lengthAdjust="spacingAndGlyphs" transform="translate(484.48,264.10) rotate(90)">10m</text>
<text x="0" y="0" font-size="4.9" fill="#505050" stroke="#505050" stroke-width="0.16" textLength="5.2" lengthAdjust="spacingAndGlyphs" transform="translate(489.22,264.10) rotate(90)">1h</text>
<text x="0" y="0" font-size="4.9" fill="#505050" stroke="#505050" stroke-width="0.16" textLength="5.2" lengthAdjust="spacingAndGlyphs" transform="translate(493.96,264.10) rotate(90)">2h</text>
<text x="0" y="0" font-size="4.9" fill="#505050" stroke="#505050" stroke-width="0.16" textLength="5.2" lengthAdjust="spacingAndGlyphs" transform="translate(498.70,264.10) rotate(90)">4h</text>
<text x="0" y="0" font-size="4.9" fill="#505050" stroke="#505050" stroke-width="0.16" textLength="5.2" lengthAdjust="spacingAndGlyphs" transform="translate(503.44,264.10) rotate(90)">6h</text>
<text x="0" y="0" font-size="4.9" fill="#505050" stroke="#505050" stroke-width="0.16" textLength="8.4" lengthAdjust="spacingAndGlyphs" transform="translate(508.18,264.10) rotate(90)">24h</text>
<line x1="430.70" y1="242.45" x2="441.30" y2="242.45" stroke="#222" stroke-width="1.1"/>
<circle cx="436.00" cy="240.45" r="0.65" fill="#333"/>
<line x1="457.40" y1="218.30" x2="471.10" y2="218.30" stroke="#222" stroke-width="1.1"/>
<circle cx="464.25" cy="216.30" r="0.65" fill="#333"/>
<line x1="494.70" y1="219.60" x2="512.80" y2="219.60" stroke="#222" stroke-width="1.1"/>
<circle cx="503.75" cy="217.60" r="0.65" fill="#333"/>
</svg></div></body></html>
